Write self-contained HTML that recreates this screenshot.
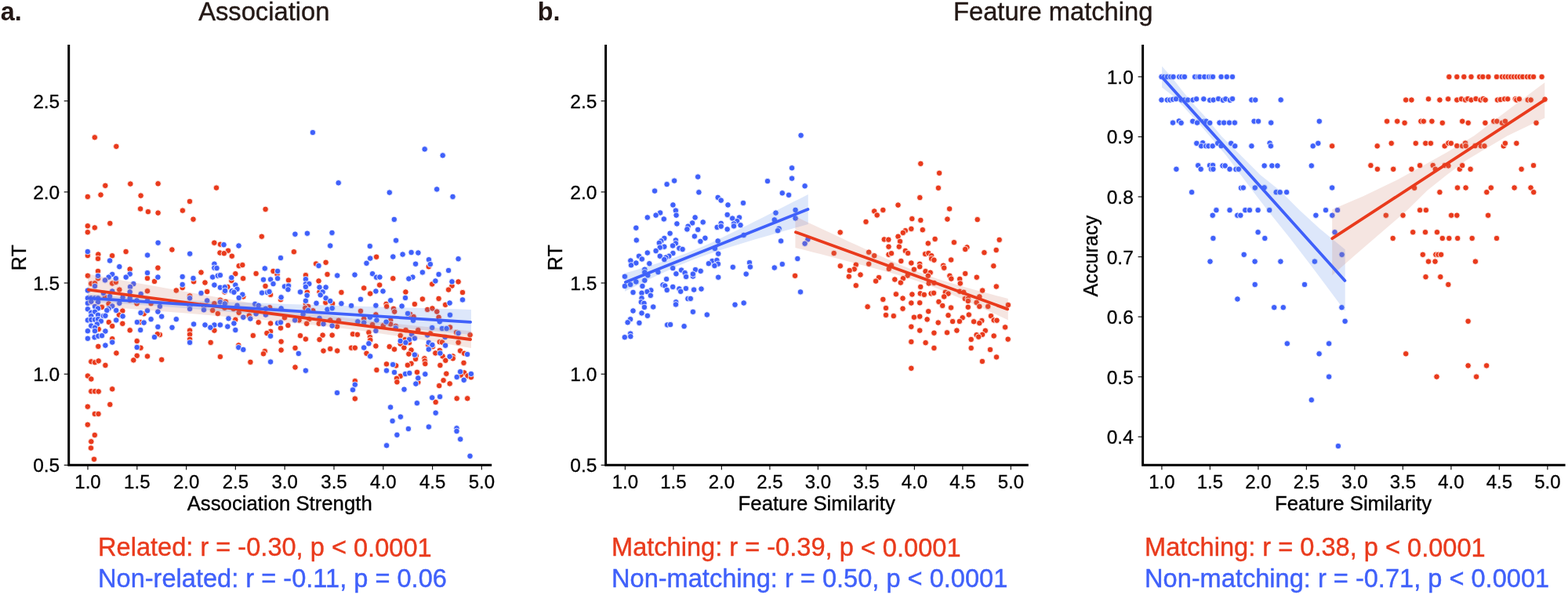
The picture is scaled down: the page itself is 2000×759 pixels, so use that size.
<!DOCTYPE html>
<html lang="en"><head><meta charset="utf-8"><title>Association and feature matching</title>
<style>
html,body{margin:0;padding:0;background:#fff;}
body{width:2000px;height:759px;overflow:hidden;}
svg{display:block;font-family:"Liberation Sans", sans-serif;}
.tk{font-size:24.5px;fill:#000;stroke:#000;stroke-width:0.3px;}
.tx{font-size:24px;}
.al{font-size:25px;fill:#000;stroke:#000;stroke-width:0.35px;}
.tt{font-size:32.7px;fill:#231815;stroke:#231815;stroke-width:0.4px;}
.pl{font-size:32.3px;font-weight:bold;fill:#231815;}
.an{font-size:32.6px;stroke-width:0.4px;}
.ax{stroke:#000;stroke-width:3.0;fill:none;stroke-linecap:square;}
.tc{stroke:#1a1a1a;stroke-width:1.25;fill:none;}
.dr{fill:#e93a1c;stroke:#fff;stroke-width:0.8;}
.db{fill:#3f60fa;stroke:#fff;stroke-width:0.8;}
.lr{stroke:#e93a1c;stroke-width:3.8;fill:none;stroke-linecap:round;}
.lb{stroke:#3f60fa;stroke-width:3.8;fill:none;stroke-linecap:round;}
.cr{fill:#cd7d69;fill-opacity:0.2;stroke:none;}
.cb{fill:#5587e6;fill-opacity:0.2;stroke:none;}
</style></head><body>
<svg width="2000" height="759" viewBox="0 0 2000 759" role="img" aria-label="Scatter plots of association strength and feature similarity against reaction time and accuracy">
<rect width="2000" height="759" fill="#fff"/>
<text class="pl" x="0.7" y="25.85" transform="rotate(0.02 0.7 25.85)">a.</text>
<text class="tt" x="253.2" y="26.4" transform="rotate(0.02 253.2 26.4)">Association</text>
<g id="pa-pts" transform="translate(0,0.2)">
<circle class="dr" cx="120.8" cy="175.1" r="3.75"/>
<circle class="dr" cx="148.3" cy="186.6" r="3.75"/>
<circle class="dr" cx="134.3" cy="236.6" r="3.75"/>
<circle class="dr" cx="166.3" cy="234.4" r="3.75"/>
<circle class="dr" cx="201.6" cy="234.1" r="3.75"/>
<circle class="dr" cx="276.0" cy="239.4" r="3.75"/>
<circle class="dr" cx="111.8" cy="250.7" r="3.75"/>
<circle class="dr" cx="128.5" cy="248.4" r="3.75"/>
<circle class="dr" cx="179.6" cy="249.4" r="3.75"/>
<circle class="dr" cx="242.0" cy="256.7" r="3.75"/>
<circle class="dr" cx="179.1" cy="266.2" r="3.75"/>
<circle class="dr" cx="188.9" cy="269.9" r="3.75"/>
<circle class="dr" cx="201.6" cy="271.4" r="3.75"/>
<circle class="dr" cx="232.9" cy="268.4" r="3.75"/>
<circle class="dr" cx="338.6" cy="266.7" r="3.75"/>
<circle class="dr" cx="246.5" cy="279.5" r="3.75"/>
<circle class="dr" cx="140.3" cy="284.7" r="3.75"/>
<circle class="dr" cx="111.8" cy="288.0" r="3.75"/>
<circle class="dr" cx="120.8" cy="290.2" r="3.75"/>
<circle class="dr" cx="111.8" cy="296.0" r="3.75"/>
<circle class="dr" cx="333.8" cy="301.5" r="3.75"/>
<circle class="dr" cx="273.3" cy="309.5" r="3.75"/>
<circle class="dr" cx="281.0" cy="311.5" r="3.75"/>
<circle class="dr" cx="219.4" cy="318.3" r="3.75"/>
<circle class="dr" cx="160.6" cy="320.8" r="3.75"/>
<circle class="dr" cx="291.0" cy="319.5" r="3.75"/>
<circle class="dr" cx="280.5" cy="322.3" r="3.75"/>
<circle class="dr" cx="285.8" cy="323.0" r="3.75"/>
<circle class="dr" cx="374.9" cy="321.0" r="3.75"/>
<circle class="dr" cx="125.3" cy="324.3" r="3.75"/>
<circle class="dr" cx="111.8" cy="325.8" r="3.75"/>
<circle class="dr" cx="143.1" cy="326.0" r="3.75"/>
<circle class="dr" cx="295.8" cy="326.5" r="3.75"/>
<circle class="dr" cx="125.0" cy="329.8" r="3.75"/>
<circle class="dr" cx="111.9" cy="351.5" r="3.75"/>
<circle class="dr" cx="125.0" cy="345.7" r="3.75"/>
<circle class="dr" cx="125.0" cy="355.0" r="3.75"/>
<circle class="dr" cx="165.7" cy="343.2" r="3.75"/>
<circle class="dr" cx="201.4" cy="341.5" r="3.75"/>
<circle class="dr" cx="256.5" cy="347.3" r="3.75"/>
<circle class="dr" cx="304.7" cy="339.0" r="3.75"/>
<circle class="dr" cx="309.3" cy="337.9" r="3.75"/>
<circle class="dr" cx="300.3" cy="349.0" r="3.75"/>
<circle class="dr" cx="326.6" cy="348.8" r="3.75"/>
<circle class="dr" cx="348.5" cy="345.7" r="3.75"/>
<circle class="dr" cx="353.5" cy="350.0" r="3.75"/>
<circle class="dr" cx="310.1" cy="355.0" r="3.75"/>
<circle class="dr" cx="188.0" cy="354.8" r="3.75"/>
<circle class="dr" cx="197.0" cy="358.8" r="3.75"/>
<circle class="dr" cx="247.1" cy="359.1" r="3.75"/>
<circle class="dr" cx="261.5" cy="360.3" r="3.75"/>
<circle class="dr" cx="295.3" cy="357.8" r="3.75"/>
<circle class="dr" cx="116.3" cy="361.6" r="3.75"/>
<circle class="dr" cx="121.0" cy="361.1" r="3.75"/>
<circle class="dr" cx="143.2" cy="361.3" r="3.75"/>
<circle class="dr" cx="147.8" cy="359.7" r="3.75"/>
<circle class="dr" cx="232.7" cy="366.9" r="3.75"/>
<circle class="dr" cx="290.3" cy="365.7" r="3.75"/>
<circle class="dr" cx="338.5" cy="364.8" r="3.75"/>
<circle class="dr" cx="152.3" cy="369.4" r="3.75"/>
<circle class="dr" cx="188.0" cy="371.1" r="3.75"/>
<circle class="dr" cx="224.8" cy="370.3" r="3.75"/>
<circle class="dr" cx="264.2" cy="371.9" r="3.75"/>
<circle class="dr" cx="286.5" cy="372.3" r="3.75"/>
<circle class="dr" cx="242.1" cy="377.3" r="3.75"/>
<circle class="dr" cx="310.3" cy="378.2" r="3.75"/>
<circle class="dr" cx="345.1" cy="375.7" r="3.75"/>
<circle class="dr" cx="134.0" cy="378.8" r="3.75"/>
<circle class="dr" cx="165.7" cy="382.8" r="3.75"/>
<circle class="dr" cx="174.5" cy="387.0" r="3.75"/>
<circle class="dr" cx="192.6" cy="387.0" r="3.75"/>
<circle class="dr" cx="138.6" cy="387.2" r="3.75"/>
<circle class="dr" cx="130.0" cy="391.6" r="3.75"/>
<circle class="dr" cx="273.4" cy="387.0" r="3.75"/>
<circle class="dr" cx="280.9" cy="382.6" r="3.75"/>
<circle class="dr" cx="287.8" cy="384.7" r="3.75"/>
<circle class="dr" cx="260.0" cy="390.1" r="3.75"/>
<circle class="dr" cx="271.2" cy="395.7" r="3.75"/>
<circle class="dr" cx="277.8" cy="399.9" r="3.75"/>
<circle class="dr" cx="286.5" cy="392.6" r="3.75"/>
<circle class="dr" cx="297.8" cy="393.9" r="3.75"/>
<circle class="dr" cx="304.7" cy="398.6" r="3.75"/>
<circle class="dr" cx="156.3" cy="396.4" r="3.75"/>
<circle class="dr" cx="151.9" cy="401.4" r="3.75"/>
<circle class="dr" cx="183.6" cy="400.1" r="3.75"/>
<circle class="dr" cx="317.8" cy="402.4" r="3.75"/>
<circle class="dr" cx="344.1" cy="392.0" r="3.75"/>
<circle class="dr" cx="300.3" cy="407.6" r="3.75"/>
<circle class="dr" cx="138.8" cy="410.8" r="3.75"/>
<circle class="dr" cx="156.3" cy="412.6" r="3.75"/>
<circle class="dr" cx="143.2" cy="415.8" r="3.75"/>
<circle class="dr" cx="178.9" cy="410.8" r="3.75"/>
<circle class="dr" cx="329.7" cy="411.0" r="3.75"/>
<circle class="dr" cx="345.1" cy="412.3" r="3.75"/>
<circle class="dr" cx="480.1" cy="327.5" r="3.75"/>
<circle class="dr" cx="403.1" cy="336.3" r="3.75"/>
<circle class="dr" cx="415.6" cy="334.6" r="3.75"/>
<circle class="dr" cx="546.8" cy="340.0" r="3.75"/>
<circle class="dr" cx="417.5" cy="349.8" r="3.75"/>
<circle class="dr" cx="389.9" cy="350.9" r="3.75"/>
<circle class="dr" cx="368.0" cy="357.3" r="3.75"/>
<circle class="dr" cx="406.5" cy="358.2" r="3.75"/>
<circle class="dr" cx="501.3" cy="355.0" r="3.75"/>
<circle class="dr" cx="584.6" cy="359.2" r="3.75"/>
<circle class="dr" cx="551.2" cy="362.2" r="3.75"/>
<circle class="dr" cx="484.2" cy="363.4" r="3.75"/>
<circle class="dr" cx="576.5" cy="364.4" r="3.75"/>
<circle class="dr" cx="464.2" cy="367.3" r="3.75"/>
<circle class="dr" cx="572.1" cy="369.4" r="3.75"/>
<circle class="dr" cx="391.8" cy="372.6" r="3.75"/>
<circle class="dr" cx="435.4" cy="372.8" r="3.75"/>
<circle class="dr" cx="472.2" cy="374.4" r="3.75"/>
<circle class="dr" cx="517.4" cy="372.3" r="3.75"/>
<circle class="dr" cx="590.0" cy="372.9" r="3.75"/>
<circle class="dr" cx="407.5" cy="372.3" r="3.75"/>
<circle class="dr" cx="358.0" cy="382.0" r="3.75"/>
<circle class="dr" cx="538.9" cy="381.3" r="3.75"/>
<circle class="dr" cx="559.6" cy="380.7" r="3.75"/>
<circle class="dr" cx="415.3" cy="385.7" r="3.75"/>
<circle class="dr" cx="424.1" cy="387.0" r="3.75"/>
<circle class="dr" cx="528.9" cy="387.8" r="3.75"/>
<circle class="dr" cx="568.1" cy="388.6" r="3.75"/>
<circle class="dr" cx="492.6" cy="387.6" r="3.75"/>
<circle class="dr" cx="493.2" cy="390.7" r="3.75"/>
<circle class="dr" cx="389.9" cy="387.2" r="3.75"/>
<circle class="dr" cx="393.1" cy="390.7" r="3.75"/>
<circle class="dr" cx="389.3" cy="392.6" r="3.75"/>
<circle class="dr" cx="399.3" cy="396.1" r="3.75"/>
<circle class="dr" cx="502.0" cy="393.6" r="3.75"/>
<circle class="dr" cx="503.2" cy="397.4" r="3.75"/>
<circle class="dr" cx="460.0" cy="396.6" r="3.75"/>
<circle class="dr" cx="545.2" cy="394.7" r="3.75"/>
<circle class="dr" cx="551.4" cy="393.2" r="3.75"/>
<circle class="dr" cx="557.3" cy="397.4" r="3.75"/>
<circle class="dr" cx="479.4" cy="401.1" r="3.75"/>
<circle class="dr" cx="523.3" cy="400.7" r="3.75"/>
<circle class="dr" cx="527.6" cy="403.9" r="3.75"/>
<circle class="dr" cx="559.6" cy="404.5" r="3.75"/>
<circle class="dr" cx="363.0" cy="405.1" r="3.75"/>
<circle class="dr" cx="464.2" cy="406.4" r="3.75"/>
<circle class="dr" cx="498.2" cy="408.2" r="3.75"/>
<circle class="dr" cx="498.2" cy="413.3" r="3.75"/>
<circle class="dr" cx="381.5" cy="408.2" r="3.75"/>
<circle class="dr" cx="394.3" cy="407.0" r="3.75"/>
<circle class="dr" cx="421.2" cy="408.2" r="3.75"/>
<circle class="dr" cx="431.9" cy="408.6" r="3.75"/>
<circle class="dr" cx="391.2" cy="412.6" r="3.75"/>
<circle class="dr" cx="406.8" cy="412.6" r="3.75"/>
<circle class="dr" cx="367.4" cy="414.9" r="3.75"/>
<circle class="dr" cx="430.0" cy="416.4" r="3.75"/>
<circle class="dr" cx="475.1" cy="413.9" r="3.75"/>
<circle class="dr" cx="488.8" cy="415.1" r="3.75"/>
<circle class="dr" cx="504.7" cy="415.8" r="3.75"/>
<circle class="dr" cx="358.0" cy="418.3" r="3.75"/>
<circle class="dr" cx="574.0" cy="417.3" r="3.75"/>
<circle class="dr" cx="125.7" cy="419.8" r="3.75"/>
<circle class="dr" cx="165.7" cy="421.1" r="3.75"/>
<circle class="dr" cx="242.1" cy="421.4" r="3.75"/>
<circle class="dr" cx="273.4" cy="421.4" r="3.75"/>
<circle class="dr" cx="345.1" cy="422.6" r="3.75"/>
<circle class="dr" cx="340.4" cy="424.8" r="3.75"/>
<circle class="dr" cx="242.1" cy="426.4" r="3.75"/>
<circle class="dr" cx="203.9" cy="426.8" r="3.75"/>
<circle class="dr" cx="200.8" cy="426.0" r="3.75"/>
<circle class="dr" cx="322.8" cy="427.9" r="3.75"/>
<circle class="dr" cx="143.2" cy="432.0" r="3.75"/>
<circle class="dr" cx="242.1" cy="432.6" r="3.75"/>
<circle class="dr" cx="174.7" cy="434.9" r="3.75"/>
<circle class="dr" cx="268.7" cy="436.7" r="3.75"/>
<circle class="dr" cx="125.3" cy="441.7" r="3.75"/>
<circle class="dr" cx="179.5" cy="443.5" r="3.75"/>
<circle class="dr" cx="304.3" cy="440.2" r="3.75"/>
<circle class="dr" cx="148.4" cy="450.2" r="3.75"/>
<circle class="dr" cx="337.8" cy="447.9" r="3.75"/>
<circle class="dr" cx="336.0" cy="451.1" r="3.75"/>
<circle class="dr" cx="174.7" cy="453.6" r="3.75"/>
<circle class="dr" cx="188.0" cy="454.3" r="3.75"/>
<circle class="dr" cx="280.9" cy="454.9" r="3.75"/>
<circle class="dr" cx="170.3" cy="459.2" r="3.75"/>
<circle class="dr" cx="206.2" cy="458.6" r="3.75"/>
<circle class="dr" cx="319.4" cy="461.7" r="3.75"/>
<circle class="dr" cx="116.3" cy="461.1" r="3.75"/>
<circle class="dr" cx="121.0" cy="462.1" r="3.75"/>
<circle class="dr" cx="125.7" cy="460.2" r="3.75"/>
<circle class="dr" cx="134.4" cy="465.8" r="3.75"/>
<circle class="dr" cx="111.9" cy="479.3" r="3.75"/>
<circle class="dr" cx="116.3" cy="483.3" r="3.75"/>
<circle class="dr" cx="143.2" cy="496.1" r="3.75"/>
<circle class="dr" cx="116.3" cy="499.0" r="3.75"/>
<circle class="dr" cx="121.0" cy="499.0" r="3.75"/>
<circle class="dr" cx="125.7" cy="499.2" r="3.75"/>
<circle class="dr" cx="517.6" cy="420.8" r="3.75"/>
<circle class="dr" cx="533.3" cy="420.8" r="3.75"/>
<circle class="dr" cx="470.4" cy="423.9" r="3.75"/>
<circle class="dr" cx="450.0" cy="426.0" r="3.75"/>
<circle class="dr" cx="455.9" cy="426.6" r="3.75"/>
<circle class="dr" cx="510.7" cy="427.9" r="3.75"/>
<circle class="dr" cx="423.7" cy="427.4" r="3.75"/>
<circle class="dr" cx="411.6" cy="427.4" r="3.75"/>
<circle class="dr" cx="383.0" cy="428.0" r="3.75"/>
<circle class="dr" cx="471.9" cy="429.9" r="3.75"/>
<circle class="dr" cx="548.9" cy="425.1" r="3.75"/>
<circle class="dr" cx="582.1" cy="423.9" r="3.75"/>
<circle class="dr" cx="599.6" cy="427.0" r="3.75"/>
<circle class="dr" cx="389.9" cy="432.4" r="3.75"/>
<circle class="dr" cx="407.5" cy="433.0" r="3.75"/>
<circle class="dr" cx="472.3" cy="433.6" r="3.75"/>
<circle class="dr" cx="516.4" cy="433.0" r="3.75"/>
<circle class="dr" cx="358.6" cy="435.5" r="3.75"/>
<circle class="dr" cx="560.8" cy="436.0" r="3.75"/>
<circle class="dr" cx="563.9" cy="436.4" r="3.75"/>
<circle class="dr" cx="584.6" cy="436.7" r="3.75"/>
<circle class="dr" cx="510.7" cy="438.3" r="3.75"/>
<circle class="dr" cx="522.0" cy="437.0" r="3.75"/>
<circle class="dr" cx="479.4" cy="441.2" r="3.75"/>
<circle class="dr" cx="546.4" cy="440.2" r="3.75"/>
<circle class="dr" cx="552.0" cy="442.0" r="3.75"/>
<circle class="dr" cx="496.7" cy="442.0" r="3.75"/>
<circle class="dr" cx="376.5" cy="443.7" r="3.75"/>
<circle class="dr" cx="448.1" cy="443.5" r="3.75"/>
<circle class="dr" cx="452.8" cy="443.5" r="3.75"/>
<circle class="dr" cx="515.4" cy="443.3" r="3.75"/>
<circle class="dr" cx="421.2" cy="444.8" r="3.75"/>
<circle class="dr" cx="503.0" cy="445.4" r="3.75"/>
<circle class="dr" cx="358.6" cy="446.4" r="3.75"/>
<circle class="dr" cx="412.5" cy="447.4" r="3.75"/>
<circle class="dr" cx="430.2" cy="447.3" r="3.75"/>
<circle class="dr" cx="524.5" cy="446.4" r="3.75"/>
<circle class="dr" cx="560.8" cy="446.8" r="3.75"/>
<circle class="dr" cx="587.1" cy="447.3" r="3.75"/>
<circle class="dr" cx="467.5" cy="450.6" r="3.75"/>
<circle class="dr" cx="555.4" cy="450.2" r="3.75"/>
<circle class="dr" cx="592.1" cy="450.6" r="3.75"/>
<circle class="dr" cx="521.4" cy="451.4" r="3.75"/>
<circle class="dr" cx="530.8" cy="453.9" r="3.75"/>
<circle class="dr" cx="564.6" cy="454.2" r="3.75"/>
<circle class="dr" cx="577.7" cy="454.2" r="3.75"/>
<circle class="dr" cx="577.7" cy="457.1" r="3.75"/>
<circle class="dr" cx="530.1" cy="457.7" r="3.75"/>
<circle class="dr" cx="541.4" cy="457.1" r="3.75"/>
<circle class="dr" cx="541.8" cy="460.2" r="3.75"/>
<circle class="dr" cx="568.3" cy="459.6" r="3.75"/>
<circle class="dr" cx="591.5" cy="462.7" r="3.75"/>
<circle class="dr" cx="493.0" cy="464.2" r="3.75"/>
<circle class="dr" cx="524.5" cy="463.6" r="3.75"/>
<circle class="dr" cx="542.3" cy="463.9" r="3.75"/>
<circle class="dr" cx="505.1" cy="466.2" r="3.75"/>
<circle class="dr" cx="519.9" cy="465.6" r="3.75"/>
<circle class="dr" cx="561.4" cy="465.8" r="3.75"/>
<circle class="dr" cx="376.5" cy="468.3" r="3.75"/>
<circle class="dr" cx="480.4" cy="471.8" r="3.75"/>
<circle class="dr" cx="532.0" cy="474.6" r="3.75"/>
<circle class="dr" cx="569.3" cy="476.5" r="3.75"/>
<circle class="dr" cx="592.1" cy="475.2" r="3.75"/>
<circle class="dr" cx="587.7" cy="478.3" r="3.75"/>
<circle class="dr" cx="596.5" cy="479.2" r="3.75"/>
<circle class="dr" cx="600.9" cy="481.1" r="3.75"/>
<circle class="dr" cx="510.7" cy="479.6" r="3.75"/>
<circle class="dr" cx="506.0" cy="482.5" r="3.75"/>
<circle class="dr" cx="506.4" cy="487.1" r="3.75"/>
<circle class="dr" cx="452.8" cy="485.9" r="3.75"/>
<circle class="dr" cx="533.3" cy="487.5" r="3.75"/>
<circle class="dr" cx="565.6" cy="485.0" r="3.75"/>
<circle class="dr" cx="573.7" cy="489.2" r="3.75"/>
<circle class="dr" cx="560.2" cy="491.9" r="3.75"/>
<circle class="dr" cx="452.8" cy="508.4" r="3.75"/>
<circle class="dr" cx="582.7" cy="508.1" r="3.75"/>
<circle class="dr" cx="596.2" cy="508.1" r="3.75"/>
<circle class="dr" cx="111.8" cy="518.5" r="3.75"/>
<circle class="dr" cx="140.3" cy="515.8" r="3.75"/>
<circle class="dr" cx="120.8" cy="527.8" r="3.75"/>
<circle class="dr" cx="125.5" cy="527.8" r="3.75"/>
<circle class="dr" cx="111.8" cy="541.5" r="3.75"/>
<circle class="dr" cx="120.8" cy="554.8" r="3.75"/>
<circle class="dr" cx="116.3" cy="563.1" r="3.75"/>
<circle class="dr" cx="116.0" cy="571.3" r="3.75"/>
<circle class="dr" cx="120.0" cy="585.6" r="3.75"/>
<circle class="dr" cx="555.7" cy="512.8" r="3.75"/>
<circle class="db" cx="398.9" cy="168.8" r="3.75"/>
<circle class="db" cx="541.7" cy="190.1" r="3.75"/>
<circle class="db" cx="564.7" cy="198.1" r="3.75"/>
<circle class="db" cx="431.7" cy="233.1" r="3.75"/>
<circle class="db" cx="557.2" cy="241.2" r="3.75"/>
<circle class="db" cx="496.8" cy="245.4" r="3.75"/>
<circle class="db" cx="577.5" cy="250.7" r="3.75"/>
<circle class="db" cx="502.8" cy="279.7" r="3.75"/>
<circle class="db" cx="376.4" cy="298.5" r="3.75"/>
<circle class="db" cx="391.9" cy="297.5" r="3.75"/>
<circle class="db" cx="423.5" cy="296.7" r="3.75"/>
<circle class="db" cx="505.1" cy="306.5" r="3.75"/>
<circle class="db" cx="201.6" cy="309.5" r="3.75"/>
<circle class="db" cx="285.5" cy="312.0" r="3.75"/>
<circle class="db" cx="304.5" cy="313.3" r="3.75"/>
<circle class="db" cx="421.2" cy="313.3" r="3.75"/>
<circle class="db" cx="471.8" cy="313.8" r="3.75"/>
<circle class="db" cx="111.8" cy="320.8" r="3.75"/>
<circle class="db" cx="524.6" cy="321.8" r="3.75"/>
<circle class="db" cx="533.4" cy="322.3" r="3.75"/>
<circle class="db" cx="513.6" cy="324.3" r="3.75"/>
<circle class="db" cx="242.2" cy="323.5" r="3.75"/>
<circle class="db" cx="188.1" cy="325.3" r="3.75"/>
<circle class="db" cx="140.1" cy="332.3" r="3.75"/>
<circle class="db" cx="152.3" cy="340.0" r="3.75"/>
<circle class="db" cx="273.4" cy="336.5" r="3.75"/>
<circle class="db" cx="273.4" cy="341.5" r="3.75"/>
<circle class="db" cx="276.5" cy="341.9" r="3.75"/>
<circle class="db" cx="337.8" cy="342.2" r="3.75"/>
<circle class="db" cx="354.1" cy="345.7" r="3.75"/>
<circle class="db" cx="143.2" cy="349.7" r="3.75"/>
<circle class="db" cx="165.7" cy="349.4" r="3.75"/>
<circle class="db" cx="188.0" cy="347.9" r="3.75"/>
<circle class="db" cx="125.0" cy="351.7" r="3.75"/>
<circle class="db" cx="138.6" cy="353.4" r="3.75"/>
<circle class="db" cx="134.0" cy="357.2" r="3.75"/>
<circle class="db" cx="147.8" cy="355.0" r="3.75"/>
<circle class="db" cx="160.7" cy="353.4" r="3.75"/>
<circle class="db" cx="201.4" cy="353.4" r="3.75"/>
<circle class="db" cx="232.7" cy="352.8" r="3.75"/>
<circle class="db" cx="246.5" cy="354.8" r="3.75"/>
<circle class="db" cx="271.2" cy="353.3" r="3.75"/>
<circle class="db" cx="277.8" cy="351.5" r="3.75"/>
<circle class="db" cx="280.9" cy="350.9" r="3.75"/>
<circle class="db" cx="295.3" cy="354.0" r="3.75"/>
<circle class="db" cx="336.0" cy="356.5" r="3.75"/>
<circle class="db" cx="345.1" cy="356.3" r="3.75"/>
<circle class="db" cx="354.1" cy="355.0" r="3.75"/>
<circle class="db" cx="121.0" cy="364.8" r="3.75"/>
<circle class="db" cx="170.3" cy="361.9" r="3.75"/>
<circle class="db" cx="166.1" cy="365.7" r="3.75"/>
<circle class="db" cx="232.7" cy="362.8" r="3.75"/>
<circle class="db" cx="273.4" cy="363.4" r="3.75"/>
<circle class="db" cx="280.9" cy="366.6" r="3.75"/>
<circle class="db" cx="286.8" cy="366.1" r="3.75"/>
<circle class="db" cx="300.3" cy="363.4" r="3.75"/>
<circle class="db" cx="348.5" cy="361.9" r="3.75"/>
<circle class="db" cx="111.9" cy="370.3" r="3.75"/>
<circle class="db" cx="143.2" cy="371.3" r="3.75"/>
<circle class="db" cx="165.7" cy="372.2" r="3.75"/>
<circle class="db" cx="302.5" cy="368.6" r="3.75"/>
<circle class="db" cx="295.7" cy="371.1" r="3.75"/>
<circle class="db" cx="298.4" cy="372.6" r="3.75"/>
<circle class="db" cx="287.1" cy="370.7" r="3.75"/>
<circle class="db" cx="256.5" cy="373.8" r="3.75"/>
<circle class="db" cx="179.7" cy="374.8" r="3.75"/>
<circle class="db" cx="309.3" cy="375.5" r="3.75"/>
<circle class="db" cx="304.7" cy="379.7" r="3.75"/>
<circle class="db" cx="334.1" cy="373.4" r="3.75"/>
<circle class="db" cx="341.0" cy="372.9" r="3.75"/>
<circle class="db" cx="343.5" cy="371.9" r="3.75"/>
<circle class="db" cx="131.9" cy="373.8" r="3.75"/>
<circle class="db" cx="140.1" cy="377.8" r="3.75"/>
<circle class="db" cx="156.6" cy="379.1" r="3.75"/>
<circle class="db" cx="165.7" cy="380.1" r="3.75"/>
<circle class="db" cx="174.5" cy="383.2" r="3.75"/>
<circle class="db" cx="188.0" cy="383.2" r="3.75"/>
<circle class="db" cx="242.1" cy="380.1" r="3.75"/>
<circle class="db" cx="264.2" cy="383.2" r="3.75"/>
<circle class="db" cx="280.9" cy="385.1" r="3.75"/>
<circle class="db" cx="286.8" cy="387.2" r="3.75"/>
<circle class="db" cx="302.5" cy="389.5" r="3.75"/>
<circle class="db" cx="325.3" cy="387.6" r="3.75"/>
<circle class="db" cx="329.7" cy="389.5" r="3.75"/>
<circle class="db" cx="338.9" cy="393.6" r="3.75"/>
<circle class="db" cx="111.9" cy="380.1" r="3.75"/>
<circle class="db" cx="116.3" cy="380.1" r="3.75"/>
<circle class="db" cx="121.0" cy="380.1" r="3.75"/>
<circle class="db" cx="125.0" cy="380.1" r="3.75"/>
<circle class="db" cx="111.9" cy="386.6" r="3.75"/>
<circle class="db" cx="116.3" cy="384.5" r="3.75"/>
<circle class="db" cx="125.0" cy="385.1" r="3.75"/>
<circle class="db" cx="152.3" cy="386.6" r="3.75"/>
<circle class="db" cx="143.2" cy="390.3" r="3.75"/>
<circle class="db" cx="203.9" cy="390.7" r="3.75"/>
<circle class="db" cx="242.1" cy="390.1" r="3.75"/>
<circle class="db" cx="242.1" cy="393.9" r="3.75"/>
<circle class="db" cx="260.0" cy="395.1" r="3.75"/>
<circle class="db" cx="121.0" cy="390.7" r="3.75"/>
<circle class="db" cx="125.0" cy="393.2" r="3.75"/>
<circle class="db" cx="111.9" cy="394.1" r="3.75"/>
<circle class="db" cx="138.6" cy="393.6" r="3.75"/>
<circle class="db" cx="136.3" cy="395.7" r="3.75"/>
<circle class="db" cx="148.2" cy="395.7" r="3.75"/>
<circle class="db" cx="188.0" cy="396.1" r="3.75"/>
<circle class="db" cx="201.4" cy="397.4" r="3.75"/>
<circle class="db" cx="179.5" cy="398.9" r="3.75"/>
<circle class="db" cx="116.3" cy="398.6" r="3.75"/>
<circle class="db" cx="121.0" cy="397.6" r="3.75"/>
<circle class="db" cx="125.0" cy="401.6" r="3.75"/>
<circle class="db" cx="116.3" cy="402.9" r="3.75"/>
<circle class="db" cx="131.9" cy="402.9" r="3.75"/>
<circle class="db" cx="134.4" cy="402.6" r="3.75"/>
<circle class="db" cx="156.6" cy="403.2" r="3.75"/>
<circle class="db" cx="206.2" cy="403.5" r="3.75"/>
<circle class="db" cx="326.6" cy="400.1" r="3.75"/>
<circle class="db" cx="338.9" cy="401.4" r="3.75"/>
<circle class="db" cx="291.5" cy="406.1" r="3.75"/>
<circle class="db" cx="310.3" cy="404.5" r="3.75"/>
<circle class="db" cx="319.3" cy="406.4" r="3.75"/>
<circle class="db" cx="111.9" cy="408.2" r="3.75"/>
<circle class="db" cx="116.3" cy="407.6" r="3.75"/>
<circle class="db" cx="121.0" cy="407.6" r="3.75"/>
<circle class="db" cx="125.0" cy="407.0" r="3.75"/>
<circle class="db" cx="128.8" cy="409.5" r="3.75"/>
<circle class="db" cx="148.2" cy="408.2" r="3.75"/>
<circle class="db" cx="192.6" cy="407.0" r="3.75"/>
<circle class="db" cx="224.8" cy="407.0" r="3.75"/>
<circle class="db" cx="174.9" cy="410.8" r="3.75"/>
<circle class="db" cx="183.6" cy="411.4" r="3.75"/>
<circle class="db" cx="247.1" cy="413.3" r="3.75"/>
<circle class="db" cx="261.5" cy="414.3" r="3.75"/>
<circle class="db" cx="273.4" cy="414.3" r="3.75"/>
<circle class="db" cx="280.9" cy="414.3" r="3.75"/>
<circle class="db" cx="298.4" cy="412.3" r="3.75"/>
<circle class="db" cx="354.1" cy="412.0" r="3.75"/>
<circle class="db" cx="116.3" cy="415.4" r="3.75"/>
<circle class="db" cx="123.8" cy="413.3" r="3.75"/>
<circle class="db" cx="121.0" cy="417.6" r="3.75"/>
<circle class="db" cx="201.4" cy="416.8" r="3.75"/>
<circle class="db" cx="219.5" cy="417.6" r="3.75"/>
<circle class="db" cx="268.4" cy="417.6" r="3.75"/>
<circle class="db" cx="290.3" cy="416.4" r="3.75"/>
<circle class="db" cx="358.0" cy="328.8" r="3.75"/>
<circle class="db" cx="472.2" cy="329.4" r="3.75"/>
<circle class="db" cx="501.3" cy="327.3" r="3.75"/>
<circle class="db" cx="547.0" cy="331.0" r="3.75"/>
<circle class="db" cx="584.6" cy="330.0" r="3.75"/>
<circle class="db" cx="467.5" cy="335.6" r="3.75"/>
<circle class="db" cx="406.5" cy="338.8" r="3.75"/>
<circle class="db" cx="530.1" cy="336.5" r="3.75"/>
<circle class="db" cx="548.9" cy="336.9" r="3.75"/>
<circle class="db" cx="572.1" cy="344.8" r="3.75"/>
<circle class="db" cx="538.9" cy="347.2" r="3.75"/>
<circle class="db" cx="559.6" cy="349.8" r="3.75"/>
<circle class="db" cx="430.2" cy="351.3" r="3.75"/>
<circle class="db" cx="452.5" cy="350.4" r="3.75"/>
<circle class="db" cx="475.1" cy="349.0" r="3.75"/>
<circle class="db" cx="480.1" cy="353.5" r="3.75"/>
<circle class="db" cx="484.4" cy="353.3" r="3.75"/>
<circle class="db" cx="526.4" cy="353.4" r="3.75"/>
<circle class="db" cx="521.4" cy="355.4" r="3.75"/>
<circle class="db" cx="389.9" cy="356.0" r="3.75"/>
<circle class="db" cx="555.4" cy="358.2" r="3.75"/>
<circle class="db" cx="576.5" cy="359.1" r="3.75"/>
<circle class="db" cx="363.0" cy="365.3" r="3.75"/>
<circle class="db" cx="368.0" cy="364.4" r="3.75"/>
<circle class="db" cx="367.4" cy="369.1" r="3.75"/>
<circle class="db" cx="389.9" cy="362.2" r="3.75"/>
<circle class="db" cx="394.3" cy="361.9" r="3.75"/>
<circle class="db" cx="389.9" cy="365.7" r="3.75"/>
<circle class="db" cx="407.5" cy="366.3" r="3.75"/>
<circle class="db" cx="415.6" cy="366.3" r="3.75"/>
<circle class="db" cx="383.0" cy="372.3" r="3.75"/>
<circle class="db" cx="411.6" cy="372.3" r="3.75"/>
<circle class="db" cx="408.7" cy="376.1" r="3.75"/>
<circle class="db" cx="391.6" cy="376.6" r="3.75"/>
<circle class="db" cx="479.4" cy="371.3" r="3.75"/>
<circle class="db" cx="488.5" cy="371.3" r="3.75"/>
<circle class="db" cx="358.6" cy="379.1" r="3.75"/>
<circle class="db" cx="415.6" cy="380.1" r="3.75"/>
<circle class="db" cx="421.2" cy="383.8" r="3.75"/>
<circle class="db" cx="460.0" cy="381.6" r="3.75"/>
<circle class="db" cx="498.2" cy="383.0" r="3.75"/>
<circle class="db" cx="517.0" cy="379.8" r="3.75"/>
<circle class="db" cx="590.0" cy="382.2" r="3.75"/>
<circle class="db" cx="389.9" cy="383.6" r="3.75"/>
<circle class="db" cx="403.5" cy="386.6" r="3.75"/>
<circle class="db" cx="435.4" cy="387.0" r="3.75"/>
<circle class="db" cx="448.1" cy="389.7" r="3.75"/>
<circle class="db" cx="479.4" cy="389.5" r="3.75"/>
<circle class="db" cx="512.6" cy="390.3" r="3.75"/>
<circle class="db" cx="573.6" cy="386.3" r="3.75"/>
<circle class="db" cx="358.6" cy="393.2" r="3.75"/>
<circle class="db" cx="417.5" cy="394.5" r="3.75"/>
<circle class="db" cx="423.7" cy="393.0" r="3.75"/>
<circle class="db" cx="393.1" cy="395.7" r="3.75"/>
<circle class="db" cx="386.6" cy="400.7" r="3.75"/>
<circle class="db" cx="520.1" cy="399.7" r="3.75"/>
<circle class="db" cx="574.0" cy="401.6" r="3.75"/>
<circle class="db" cx="407.5" cy="405.7" r="3.75"/>
<circle class="db" cx="471.9" cy="404.5" r="3.75"/>
<circle class="db" cx="480.4" cy="408.2" r="3.75"/>
<circle class="db" cx="456.3" cy="410.1" r="3.75"/>
<circle class="db" cx="464.2" cy="411.4" r="3.75"/>
<circle class="db" cx="492.6" cy="410.5" r="3.75"/>
<circle class="db" cx="527.0" cy="408.6" r="3.75"/>
<circle class="db" cx="560.8" cy="410.1" r="3.75"/>
<circle class="db" cx="358.0" cy="411.1" r="3.75"/>
<circle class="db" cx="376.2" cy="408.2" r="3.75"/>
<circle class="db" cx="412.5" cy="413.0" r="3.75"/>
<circle class="db" cx="423.7" cy="415.4" r="3.75"/>
<circle class="db" cx="551.2" cy="417.9" r="3.75"/>
<circle class="db" cx="504.7" cy="418.3" r="3.75"/>
<circle class="db" cx="563.9" cy="418.9" r="3.75"/>
<circle class="db" cx="569.6" cy="418.9" r="3.75"/>
<circle class="db" cx="111.9" cy="422.0" r="3.75"/>
<circle class="db" cx="121.0" cy="422.0" r="3.75"/>
<circle class="db" cx="134.4" cy="422.3" r="3.75"/>
<circle class="db" cx="179.2" cy="420.8" r="3.75"/>
<circle class="db" cx="300.3" cy="420.8" r="3.75"/>
<circle class="db" cx="111.9" cy="431.6" r="3.75"/>
<circle class="db" cx="120.6" cy="430.1" r="3.75"/>
<circle class="db" cx="125.3" cy="428.5" r="3.75"/>
<circle class="db" cx="130.0" cy="428.0" r="3.75"/>
<circle class="db" cx="197.0" cy="429.9" r="3.75"/>
<circle class="db" cx="345.1" cy="428.5" r="3.75"/>
<circle class="db" cx="143.2" cy="436.4" r="3.75"/>
<circle class="db" cx="134.4" cy="440.4" r="3.75"/>
<circle class="db" cx="242.1" cy="436.7" r="3.75"/>
<circle class="db" cx="174.7" cy="442.9" r="3.75"/>
<circle class="db" cx="304.3" cy="443.0" r="3.75"/>
<circle class="db" cx="310.3" cy="445.8" r="3.75"/>
<circle class="db" cx="345.1" cy="461.4" r="3.75"/>
<circle class="db" cx="479.4" cy="421.8" r="3.75"/>
<circle class="db" cx="584.6" cy="424.9" r="3.75"/>
<circle class="db" cx="525.1" cy="426.4" r="3.75"/>
<circle class="db" cx="545.2" cy="427.3" r="3.75"/>
<circle class="db" cx="567.7" cy="429.9" r="3.75"/>
<circle class="db" cx="528.9" cy="431.4" r="3.75"/>
<circle class="db" cx="522.0" cy="432.9" r="3.75"/>
<circle class="db" cx="510.7" cy="434.8" r="3.75"/>
<circle class="db" cx="517.4" cy="436.8" r="3.75"/>
<circle class="db" cx="546.8" cy="436.7" r="3.75"/>
<circle class="db" cx="470.4" cy="438.0" r="3.75"/>
<circle class="db" cx="551.4" cy="439.8" r="3.75"/>
<circle class="db" cx="568.1" cy="440.5" r="3.75"/>
<circle class="db" cx="464.2" cy="443.3" r="3.75"/>
<circle class="db" cx="546.8" cy="445.4" r="3.75"/>
<circle class="db" cx="380.8" cy="450.8" r="3.75"/>
<circle class="db" cx="561.4" cy="450.4" r="3.75"/>
<circle class="db" cx="596.1" cy="451.8" r="3.75"/>
<circle class="db" cx="528.9" cy="452.4" r="3.75"/>
<circle class="db" cx="472.2" cy="454.2" r="3.75"/>
<circle class="db" cx="573.6" cy="454.6" r="3.75"/>
<circle class="db" cx="501.1" cy="464.9" r="3.75"/>
<circle class="db" cx="389.9" cy="472.5" r="3.75"/>
<circle class="db" cx="493.0" cy="472.5" r="3.75"/>
<circle class="db" cx="503.0" cy="474.8" r="3.75"/>
<circle class="db" cx="587.1" cy="474.0" r="3.75"/>
<circle class="db" cx="600.9" cy="476.7" r="3.75"/>
<circle class="db" cx="517.0" cy="476.8" r="3.75"/>
<circle class="db" cx="522.3" cy="475.8" r="3.75"/>
<circle class="db" cx="542.3" cy="477.1" r="3.75"/>
<circle class="db" cx="582.7" cy="480.8" r="3.75"/>
<circle class="db" cx="533.3" cy="482.1" r="3.75"/>
<circle class="db" cx="591.7" cy="484.6" r="3.75"/>
<circle class="db" cx="530.4" cy="489.4" r="3.75"/>
<circle class="db" cx="452.8" cy="490.5" r="3.75"/>
<circle class="db" cx="450.0" cy="497.1" r="3.75"/>
<circle class="db" cx="515.5" cy="496.5" r="3.75"/>
<circle class="db" cx="430.0" cy="500.9" r="3.75"/>
<circle class="db" cx="551.2" cy="507.1" r="3.75"/>
<circle class="db" cx="561.1" cy="505.9" r="3.75"/>
<circle class="db" cx="531.9" cy="514.0" r="3.75"/>
<circle class="db" cx="498.1" cy="519.3" r="3.75"/>
<circle class="db" cx="555.7" cy="526.5" r="3.75"/>
<circle class="db" cx="510.9" cy="531.5" r="3.75"/>
<circle class="db" cx="500.6" cy="536.8" r="3.75"/>
<circle class="db" cx="546.9" cy="544.3" r="3.75"/>
<circle class="db" cx="520.9" cy="546.8" r="3.75"/>
<circle class="db" cx="582.5" cy="546.1" r="3.75"/>
<circle class="db" cx="582.5" cy="549.8" r="3.75"/>
<circle class="db" cx="506.4" cy="554.6" r="3.75"/>
<circle class="db" cx="587.2" cy="560.1" r="3.75"/>
<circle class="db" cx="493.1" cy="568.1" r="3.75"/>
<circle class="db" cx="599.5" cy="581.6" r="3.75"/>
<polygon class="cr" points="112.0,349.4 132.4,353.1 152.8,356.8 173.1,360.5 193.5,364.1 213.9,367.8 234.2,371.4 254.6,375.0 275.0,378.6 295.4,382.1 315.8,385.6 336.1,389.1 356.5,392.4 376.9,395.7 397.2,398.9 417.6,401.9 438.0,404.7 458.4,407.4 478.8,409.8 499.1,412.2 519.5,414.3 539.9,416.4 560.2,418.3 580.6,420.2 601.0,422.0 601.0,443.8 580.6,440.3 560.2,436.9 539.9,433.6 519.5,430.3 499.1,427.2 478.8,424.2 458.4,421.4 438.0,418.8 417.6,416.3 397.2,414.0 376.9,411.9 356.5,409.9 336.1,407.9 315.8,406.1 295.4,404.3 275.0,402.5 254.6,400.8 234.2,399.1 213.9,397.5 193.5,395.8 173.1,394.2 152.8,392.6 132.4,391.0 112.0,389.4"/>
<polygon class="cb" points="112.0,375.5 132.4,377.0 152.8,378.3 173.1,379.6 193.5,380.7 213.9,381.8 234.2,382.7 254.6,383.6 275.0,384.4 295.4,385.2 315.8,385.9 336.1,386.6 356.5,387.3 376.9,388.0 397.2,388.6 417.6,389.2 438.0,389.9 458.4,390.5 478.8,391.1 499.1,391.7 519.5,392.3 539.9,392.9 560.2,393.5 580.6,394.1 601.0,394.7 601.0,426.7 580.6,424.8 560.2,422.8 539.9,420.8 519.5,418.9 499.1,416.9 478.8,415.0 458.4,413.1 438.0,411.1 417.6,409.2 397.2,407.3 376.9,405.4 356.5,403.5 336.1,401.6 315.8,399.8 295.4,398.0 275.0,396.2 254.6,394.5 234.2,392.8 213.9,391.2 193.5,389.7 173.1,388.2 152.8,387.0 132.4,385.8 112.0,384.7"/>
<line class="lr" x1="112.9" y1="369.5" x2="600.1" y2="432.8"/>
<line class="lb" x1="112.9" y1="380.2" x2="600.1" y2="410.6"/>
</g>
<g id="pa">
<line class="tc" x1="112.0" y1="593.3" x2="112.0" y2="599.3"/>
<text class="tk tx" x="112.0" y="622.6" transform="rotate(0.02 112.0 622.6)" text-anchor="middle">1.0</text>
<line class="tc" x1="174.8" y1="593.3" x2="174.8" y2="599.3"/>
<text class="tk tx" x="174.8" y="622.6" transform="rotate(0.02 174.8 622.6)" text-anchor="middle">1.5</text>
<line class="tc" x1="237.6" y1="593.3" x2="237.6" y2="599.3"/>
<text class="tk tx" x="237.6" y="622.6" transform="rotate(0.02 237.6 622.6)" text-anchor="middle">2.0</text>
<line class="tc" x1="300.4" y1="593.3" x2="300.4" y2="599.3"/>
<text class="tk tx" x="300.4" y="622.6" transform="rotate(0.02 300.4 622.6)" text-anchor="middle">2.5</text>
<line class="tc" x1="363.2" y1="593.3" x2="363.2" y2="599.3"/>
<text class="tk tx" x="363.2" y="622.6" transform="rotate(0.02 363.2 622.6)" text-anchor="middle">3.0</text>
<line class="tc" x1="426.0" y1="593.3" x2="426.0" y2="599.3"/>
<text class="tk tx" x="426.0" y="622.6" transform="rotate(0.02 426.0 622.6)" text-anchor="middle">3.5</text>
<line class="tc" x1="488.8" y1="593.3" x2="488.8" y2="599.3"/>
<text class="tk tx" x="488.8" y="622.6" transform="rotate(0.02 488.8 622.6)" text-anchor="middle">4.0</text>
<line class="tc" x1="551.6" y1="593.3" x2="551.6" y2="599.3"/>
<text class="tk tx" x="551.6" y="622.6" transform="rotate(0.02 551.6 622.6)" text-anchor="middle">4.5</text>
<line class="tc" x1="614.4" y1="593.3" x2="614.4" y2="599.3"/>
<text class="tk tx" x="614.4" y="622.6" transform="rotate(0.02 614.4 622.6)" text-anchor="middle">5.0</text>
<line class="tc" x1="81.7" y1="128.8" x2="87.7" y2="128.8"/>
<text class="tk" x="76.2" y="137.8" transform="rotate(0.02 76.2 137.8)" text-anchor="end">2.5</text>
<line class="tc" x1="81.7" y1="244.9" x2="87.7" y2="244.9"/>
<text class="tk" x="76.2" y="253.9" transform="rotate(0.02 76.2 253.9)" text-anchor="end">2.0</text>
<line class="tc" x1="81.7" y1="361.0" x2="87.7" y2="361.0"/>
<text class="tk" x="76.2" y="370.0" transform="rotate(0.02 76.2 370.0)" text-anchor="end">1.5</text>
<line class="tc" x1="81.7" y1="477.2" x2="87.7" y2="477.2"/>
<text class="tk" x="76.2" y="486.2" transform="rotate(0.02 76.2 486.2)" text-anchor="end">1.0</text>
<line class="tc" x1="81.7" y1="593.3" x2="87.7" y2="593.3"/>
<text class="tk" x="76.2" y="602.3" transform="rotate(0.02 76.2 602.3)" text-anchor="end">0.5</text>
<text class="al" transform="translate(356.7,651.4) rotate(0.02) scale(1.03,1)" text-anchor="middle">Association Strength</text>
<text class="al" transform="translate(32.6,328.7) rotate(-89.98) scale(1.01,1)" text-anchor="middle">RT</text>
</g>
<path class="ax" d="M87.7 58.6V593.3H625.7"/>
<text class="an" x="125" y="709.4" transform="rotate(0.02 125 709.4)" fill="#e93a1c" stroke="#e93a1c">Related: r = -0.30, p &lt; 0.0001</text>
<text class="an" x="125" y="748.65" transform="rotate(0.02 125 748.65)" fill="#3f60fa" stroke="#3f60fa">Non-related: r = -0.11, p = 0.06</text>
<text class="pl" x="685.8" y="25.85" transform="rotate(0.02 685.8 25.85)">b.</text>
<text class="tt" x="1216" y="26.3" transform="rotate(0.02 1216 26.3)">Feature matching</text>
<g id="pb-pts" transform="translate(0,0.2)">
<circle class="dr" cx="1174.3" cy="208.6" r="3.75"/>
<circle class="dr" cx="1198.1" cy="220.6" r="3.75"/>
<circle class="dr" cx="1196.9" cy="239.6" r="3.75"/>
<circle class="dr" cx="1173.3" cy="251.9" r="3.75"/>
<circle class="dr" cx="1145.5" cy="261.4" r="3.75"/>
<circle class="dr" cx="1126.3" cy="267.7" r="3.75"/>
<circle class="dr" cx="1115.2" cy="269.2" r="3.75"/>
<circle class="dr" cx="1118.7" cy="274.2" r="3.75"/>
<circle class="dr" cx="1211.1" cy="266.2" r="3.75"/>
<circle class="dr" cx="1104.5" cy="282.7" r="3.75"/>
<circle class="dr" cx="1163.3" cy="278.9" r="3.75"/>
<circle class="dr" cx="1174.3" cy="280.7" r="3.75"/>
<circle class="dr" cx="1208.4" cy="279.4" r="3.75"/>
<circle class="dr" cx="1246.7" cy="279.9" r="3.75"/>
<circle class="dr" cx="1162.3" cy="291.7" r="3.75"/>
<circle class="dr" cx="1154.8" cy="294.0" r="3.75"/>
<circle class="dr" cx="1151.8" cy="296.7" r="3.75"/>
<circle class="dr" cx="1176.8" cy="293.0" r="3.75"/>
<circle class="dr" cx="1071.7" cy="296.2" r="3.75"/>
<circle class="dr" cx="1145.5" cy="301.5" r="3.75"/>
<circle class="dr" cx="1127.8" cy="305.2" r="3.75"/>
<circle class="dr" cx="1133.3" cy="305.5" r="3.75"/>
<circle class="dr" cx="1148.0" cy="307.7" r="3.75"/>
<circle class="dr" cx="1192.6" cy="304.7" r="3.75"/>
<circle class="dr" cx="1183.8" cy="310.2" r="3.75"/>
<circle class="dr" cx="1216.9" cy="309.0" r="3.75"/>
<circle class="dr" cx="1274.7" cy="305.7" r="3.75"/>
<circle class="dr" cx="1133.5" cy="314.5" r="3.75"/>
<circle class="dr" cx="1146.8" cy="314.5" r="3.75"/>
<circle class="dr" cx="1233.4" cy="315.2" r="3.75"/>
<circle class="dr" cx="1231.2" cy="317.8" r="3.75"/>
<circle class="dr" cx="1154.8" cy="319.8" r="3.75"/>
<circle class="dr" cx="1158.1" cy="322.8" r="3.75"/>
<circle class="dr" cx="1270.7" cy="318.8" r="3.75"/>
<circle class="dr" cx="1255.4" cy="322.0" r="3.75"/>
<circle class="dr" cx="1108.2" cy="321.5" r="3.75"/>
<circle class="dr" cx="1115.2" cy="326.0" r="3.75"/>
<circle class="dr" cx="1063.7" cy="322.8" r="3.75"/>
<circle class="dr" cx="1133.5" cy="324.5" r="3.75"/>
<circle class="dr" cx="1137.0" cy="323.0" r="3.75"/>
<circle class="dr" cx="1180.1" cy="323.8" r="3.75"/>
<circle class="dr" cx="1184.3" cy="322.8" r="3.75"/>
<circle class="dr" cx="1188.1" cy="326.0" r="3.75"/>
<circle class="dr" cx="1188.1" cy="329.8" r="3.75"/>
<circle class="dr" cx="1191.4" cy="331.5" r="3.75"/>
<circle class="dr" cx="1213.1" cy="331.3" r="3.75"/>
<circle class="dr" cx="1149.3" cy="332.8" r="3.75"/>
<circle class="dr" cx="1162.3" cy="335.3" r="3.75"/>
<circle class="dr" cx="1173.1" cy="336.5" r="3.75"/>
<circle class="dr" cx="1108.2" cy="336.5" r="3.75"/>
<circle class="dr" cx="1014.1" cy="351.6" r="3.75"/>
<circle class="dr" cx="1071.8" cy="339.1" r="3.75"/>
<circle class="dr" cx="1091.8" cy="337.5" r="3.75"/>
<circle class="dr" cx="1136.9" cy="338.1" r="3.75"/>
<circle class="dr" cx="1173.2" cy="340.0" r="3.75"/>
<circle class="dr" cx="1203.2" cy="338.5" r="3.75"/>
<circle class="dr" cx="1204.2" cy="341.5" r="3.75"/>
<circle class="dr" cx="1267.3" cy="339.1" r="3.75"/>
<circle class="dr" cx="1133.8" cy="342.8" r="3.75"/>
<circle class="dr" cx="1089.7" cy="343.1" r="3.75"/>
<circle class="dr" cx="1083.7" cy="344.8" r="3.75"/>
<circle class="dr" cx="1165.9" cy="343.5" r="3.75"/>
<circle class="dr" cx="1180.5" cy="345.9" r="3.75"/>
<circle class="dr" cx="1186.7" cy="347.5" r="3.75"/>
<circle class="dr" cx="1097.5" cy="350.3" r="3.75"/>
<circle class="dr" cx="1082.8" cy="352.5" r="3.75"/>
<circle class="dr" cx="1121.0" cy="353.8" r="3.75"/>
<circle class="dr" cx="1183.8" cy="351.6" r="3.75"/>
<circle class="dr" cx="1211.4" cy="351.6" r="3.75"/>
<circle class="dr" cx="1231.2" cy="348.8" r="3.75"/>
<circle class="dr" cx="1245.8" cy="353.5" r="3.75"/>
<circle class="dr" cx="1157.6" cy="351.3" r="3.75"/>
<circle class="dr" cx="1151.9" cy="355.0" r="3.75"/>
<circle class="dr" cx="1141.3" cy="356.3" r="3.75"/>
<circle class="dr" cx="1213.3" cy="355.4" r="3.75"/>
<circle class="dr" cx="1224.2" cy="355.7" r="3.75"/>
<circle class="dr" cx="1117.1" cy="358.4" r="3.75"/>
<circle class="dr" cx="1148.8" cy="360.4" r="3.75"/>
<circle class="dr" cx="1184.7" cy="361.3" r="3.75"/>
<circle class="dr" cx="1191.4" cy="360.7" r="3.75"/>
<circle class="dr" cx="1224.8" cy="361.3" r="3.75"/>
<circle class="dr" cx="1091.8" cy="364.0" r="3.75"/>
<circle class="dr" cx="1174.2" cy="365.7" r="3.75"/>
<circle class="dr" cx="1270.8" cy="365.3" r="3.75"/>
<circle class="dr" cx="1253.1" cy="370.4" r="3.75"/>
<circle class="dr" cx="1224.2" cy="371.6" r="3.75"/>
<circle class="dr" cx="1229.2" cy="372.6" r="3.75"/>
<circle class="dr" cx="1205.8" cy="372.6" r="3.75"/>
<circle class="dr" cx="1209.5" cy="374.4" r="3.75"/>
<circle class="dr" cx="1142.9" cy="375.1" r="3.75"/>
<circle class="dr" cx="1163.4" cy="375.3" r="3.75"/>
<circle class="dr" cx="1173.8" cy="374.2" r="3.75"/>
<circle class="dr" cx="1178.8" cy="375.7" r="3.75"/>
<circle class="dr" cx="1187.6" cy="374.2" r="3.75"/>
<circle class="dr" cx="1191.0" cy="373.6" r="3.75"/>
<circle class="dr" cx="1204.2" cy="378.2" r="3.75"/>
<circle class="dr" cx="1249.3" cy="378.2" r="3.75"/>
<circle class="dr" cx="1126.3" cy="381.7" r="3.75"/>
<circle class="dr" cx="1151.5" cy="380.4" r="3.75"/>
<circle class="dr" cx="1230.8" cy="380.9" r="3.75"/>
<circle class="dr" cx="1234.8" cy="380.7" r="3.75"/>
<circle class="dr" cx="1234.8" cy="383.8" r="3.75"/>
<circle class="dr" cx="1162.3" cy="386.3" r="3.75"/>
<circle class="dr" cx="1173.2" cy="386.1" r="3.75"/>
<circle class="dr" cx="1197.4" cy="384.7" r="3.75"/>
<circle class="dr" cx="1245.6" cy="385.7" r="3.75"/>
<circle class="dr" cx="1202.2" cy="389.7" r="3.75"/>
<circle class="dr" cx="1285.9" cy="388.8" r="3.75"/>
<circle class="dr" cx="1106.6" cy="391.1" r="3.75"/>
<circle class="dr" cx="1130.0" cy="392.8" r="3.75"/>
<circle class="dr" cx="1151.5" cy="393.5" r="3.75"/>
<circle class="dr" cx="1213.0" cy="392.3" r="3.75"/>
<circle class="dr" cx="1234.8" cy="391.6" r="3.75"/>
<circle class="dr" cx="1249.3" cy="390.7" r="3.75"/>
<circle class="dr" cx="1260.2" cy="390.7" r="3.75"/>
<circle class="dr" cx="1184.2" cy="397.0" r="3.75"/>
<circle class="dr" cx="1130.0" cy="401.7" r="3.75"/>
<circle class="dr" cx="1139.8" cy="402.9" r="3.75"/>
<circle class="dr" cx="1209.5" cy="402.0" r="3.75"/>
<circle class="dr" cx="1235.8" cy="401.3" r="3.75"/>
<circle class="dr" cx="1264.0" cy="402.9" r="3.75"/>
<circle class="dr" cx="1165.9" cy="404.5" r="3.75"/>
<circle class="dr" cx="1173.2" cy="403.5" r="3.75"/>
<circle class="dr" cx="1182.6" cy="407.2" r="3.75"/>
<circle class="dr" cx="1227.7" cy="405.1" r="3.75"/>
<circle class="dr" cx="1267.7" cy="408.2" r="3.75"/>
<circle class="dr" cx="1271.5" cy="408.5" r="3.75"/>
<circle class="dr" cx="1215.1" cy="409.9" r="3.75"/>
<circle class="dr" cx="1223.9" cy="409.7" r="3.75"/>
<circle class="dr" cx="1242.1" cy="410.1" r="3.75"/>
<circle class="dr" cx="1252.3" cy="408.9" r="3.75"/>
<circle class="dr" cx="1249.3" cy="412.0" r="3.75"/>
<circle class="dr" cx="1196.7" cy="411.4" r="3.75"/>
<circle class="dr" cx="1162.3" cy="416.6" r="3.75"/>
<circle class="dr" cx="1282.1" cy="417.2" r="3.75"/>
<circle class="dr" cx="1173.2" cy="421.4" r="3.75"/>
<circle class="dr" cx="1220.4" cy="421.4" r="3.75"/>
<circle class="dr" cx="1256.8" cy="421.6" r="3.75"/>
<circle class="dr" cx="1191.4" cy="424.5" r="3.75"/>
<circle class="dr" cx="1208.0" cy="424.1" r="3.75"/>
<circle class="dr" cx="1245.6" cy="427.0" r="3.75"/>
<circle class="dr" cx="1253.1" cy="426.6" r="3.75"/>
<circle class="dr" cx="1267.7" cy="428.3" r="3.75"/>
<circle class="dr" cx="1248.2" cy="429.5" r="3.75"/>
<circle class="dr" cx="1285.7" cy="432.5" r="3.75"/>
<circle class="dr" cx="1238.7" cy="432.8" r="3.75"/>
<circle class="dr" cx="1162.3" cy="435.8" r="3.75"/>
<circle class="dr" cx="1180.6" cy="437.0" r="3.75"/>
<circle class="dr" cx="1191.4" cy="443.8" r="3.75"/>
<circle class="dr" cx="1238.7" cy="443.8" r="3.75"/>
<circle class="dr" cx="1263.0" cy="445.8" r="3.75"/>
<circle class="dr" cx="1271.0" cy="455.3" r="3.75"/>
<circle class="dr" cx="1252.9" cy="460.8" r="3.75"/>
<circle class="dr" cx="1162.3" cy="469.6" r="3.75"/>
<circle class="db" cx="1021.6" cy="172.5" r="3.75"/>
<circle class="db" cx="1010.1" cy="214.1" r="3.75"/>
<circle class="db" cx="1010.1" cy="227.4" r="3.75"/>
<circle class="db" cx="1026.6" cy="237.1" r="3.75"/>
<circle class="db" cx="979.0" cy="230.9" r="3.75"/>
<circle class="db" cx="890.2" cy="225.4" r="3.75"/>
<circle class="db" cx="860.1" cy="230.4" r="3.75"/>
<circle class="db" cx="850.6" cy="234.9" r="3.75"/>
<circle class="db" cx="835.1" cy="243.4" r="3.75"/>
<circle class="db" cx="891.4" cy="245.1" r="3.75"/>
<circle class="db" cx="997.8" cy="246.1" r="3.75"/>
<circle class="db" cx="1006.1" cy="248.6" r="3.75"/>
<circle class="db" cx="915.7" cy="251.7" r="3.75"/>
<circle class="db" cx="919.7" cy="255.4" r="3.75"/>
<circle class="db" cx="948.0" cy="258.7" r="3.75"/>
<circle class="db" cx="858.4" cy="261.2" r="3.75"/>
<circle class="db" cx="928.5" cy="261.2" r="3.75"/>
<circle class="db" cx="861.9" cy="268.4" r="3.75"/>
<circle class="db" cx="842.1" cy="271.2" r="3.75"/>
<circle class="db" cx="836.6" cy="274.4" r="3.75"/>
<circle class="db" cx="862.6" cy="274.4" r="3.75"/>
<circle class="db" cx="825.8" cy="277.2" r="3.75"/>
<circle class="db" cx="846.8" cy="279.2" r="3.75"/>
<circle class="db" cx="886.6" cy="277.2" r="3.75"/>
<circle class="db" cx="927.7" cy="273.7" r="3.75"/>
<circle class="db" cx="934.2" cy="278.4" r="3.75"/>
<circle class="db" cx="943.0" cy="277.2" r="3.75"/>
<circle class="db" cx="940.2" cy="281.9" r="3.75"/>
<circle class="db" cx="936.0" cy="285.2" r="3.75"/>
<circle class="db" cx="936.0" cy="288.2" r="3.75"/>
<circle class="db" cx="944.5" cy="287.0" r="3.75"/>
<circle class="db" cx="883.1" cy="284.2" r="3.75"/>
<circle class="db" cx="896.7" cy="283.2" r="3.75"/>
<circle class="db" cx="863.4" cy="285.2" r="3.75"/>
<circle class="db" cx="919.7" cy="284.7" r="3.75"/>
<circle class="db" cx="914.7" cy="289.7" r="3.75"/>
<circle class="db" cx="919.7" cy="288.5" r="3.75"/>
<circle class="db" cx="877.6" cy="288.5" r="3.75"/>
<circle class="db" cx="876.4" cy="292.2" r="3.75"/>
<circle class="db" cx="890.2" cy="292.7" r="3.75"/>
<circle class="db" cx="927.7" cy="292.2" r="3.75"/>
<circle class="db" cx="811.3" cy="290.5" r="3.75"/>
<circle class="db" cx="854.6" cy="297.5" r="3.75"/>
<circle class="db" cx="885.9" cy="301.2" r="3.75"/>
<circle class="db" cx="899.4" cy="303.5" r="3.75"/>
<circle class="db" cx="847.3" cy="303.7" r="3.75"/>
<circle class="db" cx="843.3" cy="307.2" r="3.75"/>
<circle class="db" cx="840.8" cy="309.7" r="3.75"/>
<circle class="db" cx="861.9" cy="306.2" r="3.75"/>
<circle class="db" cx="861.9" cy="310.2" r="3.75"/>
<circle class="db" cx="893.4" cy="307.7" r="3.75"/>
<circle class="db" cx="811.8" cy="306.2" r="3.75"/>
<circle class="db" cx="915.7" cy="307.2" r="3.75"/>
<circle class="db" cx="948.7" cy="299.7" r="3.75"/>
<circle class="db" cx="858.1" cy="313.2" r="3.75"/>
<circle class="db" cx="847.3" cy="314.5" r="3.75"/>
<circle class="db" cx="841.8" cy="315.5" r="3.75"/>
<circle class="db" cx="866.4" cy="316.5" r="3.75"/>
<circle class="db" cx="870.6" cy="317.8" r="3.75"/>
<circle class="db" cx="911.9" cy="316.8" r="3.75"/>
<circle class="db" cx="836.6" cy="319.8" r="3.75"/>
<circle class="db" cx="825.8" cy="322.3" r="3.75"/>
<circle class="db" cx="858.4" cy="322.8" r="3.75"/>
<circle class="db" cx="916.2" cy="323.5" r="3.75"/>
<circle class="db" cx="815.0" cy="326.5" r="3.75"/>
<circle class="db" cx="841.8" cy="326.5" r="3.75"/>
<circle class="db" cx="853.3" cy="326.5" r="3.75"/>
<circle class="db" cx="849.3" cy="328.3" r="3.75"/>
<circle class="db" cx="818.8" cy="330.3" r="3.75"/>
<circle class="db" cx="847.3" cy="330.8" r="3.75"/>
<circle class="db" cx="804.3" cy="332.3" r="3.75"/>
<circle class="db" cx="811.3" cy="335.3" r="3.75"/>
<circle class="db" cx="828.3" cy="336.0" r="3.75"/>
<circle class="db" cx="908.4" cy="332.8" r="3.75"/>
<circle class="db" cx="914.4" cy="331.8" r="3.75"/>
<circle class="db" cx="903.9" cy="336.0" r="3.75"/>
<circle class="db" cx="915.9" cy="336.5" r="3.75"/>
<circle class="db" cx="956.0" cy="334.8" r="3.75"/>
<circle class="db" cx="1014.6" cy="267.7" r="3.75"/>
<circle class="db" cx="989.5" cy="271.4" r="3.75"/>
<circle class="db" cx="987.8" cy="280.2" r="3.75"/>
<circle class="db" cx="1014.6" cy="278.2" r="3.75"/>
<circle class="db" cx="993.6" cy="291.5" r="3.75"/>
<circle class="db" cx="992.1" cy="294.0" r="3.75"/>
<circle class="db" cx="996.1" cy="307.2" r="3.75"/>
<circle class="db" cx="1030.4" cy="305.2" r="3.75"/>
<circle class="db" cx="1026.6" cy="310.5" r="3.75"/>
<circle class="db" cx="1017.3" cy="329.8" r="3.75"/>
<circle class="db" cx="997.8" cy="336.8" r="3.75"/>
<circle class="db" cx="805.0" cy="338.1" r="3.75"/>
<circle class="db" cx="911.4" cy="338.8" r="3.75"/>
<circle class="db" cx="934.8" cy="340.6" r="3.75"/>
<circle class="db" cx="956.9" cy="340.3" r="3.75"/>
<circle class="db" cx="987.8" cy="341.3" r="3.75"/>
<circle class="db" cx="822.3" cy="343.5" r="3.75"/>
<circle class="db" cx="858.2" cy="341.9" r="3.75"/>
<circle class="db" cx="869.1" cy="344.4" r="3.75"/>
<circle class="db" cx="887.0" cy="343.8" r="3.75"/>
<circle class="db" cx="893.7" cy="345.6" r="3.75"/>
<circle class="db" cx="822.3" cy="347.1" r="3.75"/>
<circle class="db" cx="839.4" cy="346.9" r="3.75"/>
<circle class="db" cx="873.6" cy="347.9" r="3.75"/>
<circle class="db" cx="862.4" cy="349.1" r="3.75"/>
<circle class="db" cx="951.7" cy="349.4" r="3.75"/>
<circle class="db" cx="826.3" cy="351.0" r="3.75"/>
<circle class="db" cx="796.9" cy="352.5" r="3.75"/>
<circle class="db" cx="875.1" cy="352.8" r="3.75"/>
<circle class="db" cx="883.9" cy="352.3" r="3.75"/>
<circle class="db" cx="883.9" cy="349.4" r="3.75"/>
<circle class="db" cx="916.2" cy="353.5" r="3.75"/>
<circle class="db" cx="850.1" cy="355.9" r="3.75"/>
<circle class="db" cx="822.3" cy="357.5" r="3.75"/>
<circle class="db" cx="811.3" cy="359.2" r="3.75"/>
<circle class="db" cx="804.1" cy="362.8" r="3.75"/>
<circle class="db" cx="796.9" cy="364.8" r="3.75"/>
<circle class="db" cx="819.4" cy="364.8" r="3.75"/>
<circle class="db" cx="845.5" cy="363.2" r="3.75"/>
<circle class="db" cx="848.2" cy="364.4" r="3.75"/>
<circle class="db" cx="858.2" cy="365.7" r="3.75"/>
<circle class="db" cx="866.4" cy="368.2" r="3.75"/>
<circle class="db" cx="874.9" cy="367.8" r="3.75"/>
<circle class="db" cx="894.5" cy="368.4" r="3.75"/>
<circle class="db" cx="885.1" cy="369.4" r="3.75"/>
<circle class="db" cx="850.7" cy="369.8" r="3.75"/>
<circle class="db" cx="868.2" cy="371.6" r="3.75"/>
<circle class="db" cx="830.3" cy="370.1" r="3.75"/>
<circle class="db" cx="825.4" cy="371.9" r="3.75"/>
<circle class="db" cx="807.5" cy="372.8" r="3.75"/>
<circle class="db" cx="818.5" cy="373.6" r="3.75"/>
<circle class="db" cx="829.8" cy="376.7" r="3.75"/>
<circle class="db" cx="1021.0" cy="372.2" r="3.75"/>
<circle class="db" cx="818.5" cy="380.1" r="3.75"/>
<circle class="db" cx="877.4" cy="380.9" r="3.75"/>
<circle class="db" cx="880.8" cy="380.7" r="3.75"/>
<circle class="db" cx="817.8" cy="385.1" r="3.75"/>
<circle class="db" cx="821.5" cy="386.7" r="3.75"/>
<circle class="db" cx="862.2" cy="385.1" r="3.75"/>
<circle class="db" cx="862.0" cy="388.2" r="3.75"/>
<circle class="db" cx="937.5" cy="388.5" r="3.75"/>
<circle class="db" cx="948.7" cy="386.3" r="3.75"/>
<circle class="db" cx="821.9" cy="391.7" r="3.75"/>
<circle class="db" cx="833.2" cy="391.3" r="3.75"/>
<circle class="db" cx="807.5" cy="396.3" r="3.75"/>
<circle class="db" cx="818.5" cy="399.2" r="3.75"/>
<circle class="db" cx="883.9" cy="397.6" r="3.75"/>
<circle class="db" cx="825.9" cy="402.6" r="3.75"/>
<circle class="db" cx="901.8" cy="401.3" r="3.75"/>
<circle class="db" cx="804.1" cy="407.0" r="3.75"/>
<circle class="db" cx="800.6" cy="411.1" r="3.75"/>
<circle class="db" cx="815.4" cy="411.7" r="3.75"/>
<circle class="db" cx="851.1" cy="414.2" r="3.75"/>
<circle class="db" cx="855.1" cy="413.9" r="3.75"/>
<circle class="db" cx="872.6" cy="416.0" r="3.75"/>
<circle class="db" cx="804.1" cy="425.4" r="3.75"/>
<circle class="db" cx="796.8" cy="430.0" r="3.75"/>
<circle class="db" cx="804.3" cy="429.0" r="3.75"/>
<polygon class="cb" points="797.0,348.4 806.7,345.5 816.5,342.6 826.2,339.6 836.0,336.5 845.7,333.4 855.5,330.1 865.2,326.6 874.9,323.0 884.7,319.1 894.4,315.0 904.2,310.7 913.9,306.2 923.6,301.6 933.4,296.9 943.1,292.1 952.9,287.3 962.6,282.4 972.4,277.5 982.1,272.5 991.8,267.6 1001.6,262.6 1011.3,257.6 1021.1,252.7 1030.8,247.7 1030.8,285.7 1021.1,288.5 1011.3,291.3 1001.6,294.1 991.8,296.9 982.1,299.7 972.4,302.6 962.6,305.4 952.9,308.3 943.1,311.3 933.4,314.3 923.6,317.4 913.9,320.5 904.2,323.8 894.4,327.3 884.7,330.9 874.9,334.8 865.2,338.9 855.5,343.3 845.7,347.8 836.0,352.4 826.2,357.1 816.5,361.9 806.7,366.7 797.0,371.6"/>
<polygon class="cr" points="1014.4,275.8 1025.7,281.2 1037.0,286.5 1048.3,291.8 1059.6,297.1 1070.9,302.4 1082.2,307.7 1093.6,312.9 1104.9,318.1 1116.2,323.3 1127.5,328.4 1138.8,333.3 1150.1,338.2 1161.4,342.8 1172.7,347.3 1184.0,351.4 1195.3,355.3 1206.6,358.9 1218.0,362.3 1229.3,365.6 1240.6,368.8 1251.9,371.9 1263.2,374.9 1274.5,377.9 1285.8,380.8 1285.8,408.0 1274.5,402.7 1263.2,397.5 1251.9,392.3 1240.6,387.2 1229.3,382.1 1218.0,377.2 1206.6,372.4 1195.3,367.8 1184.0,363.4 1172.7,359.4 1161.4,355.6 1150.1,352.0 1138.8,348.6 1127.5,345.4 1116.2,342.3 1104.9,339.2 1093.6,336.2 1082.2,333.2 1070.9,330.2 1059.6,327.3 1048.3,324.4 1037.0,321.5 1025.7,318.6 1014.4,315.8"/>
<line class="lb" x1="797.8" y1="359.7" x2="1030.5" y2="266.8"/>
<line class="lr" x1="1015.0" y1="296.0" x2="1285.2" y2="394.2"/>
</g>
<g id="pb">
<line class="tc" x1="797.4" y1="593.3" x2="797.4" y2="599.3"/>
<text class="tk tx" x="797.4" y="622.6" transform="rotate(0.02 797.4 622.6)" text-anchor="middle">1.0</text>
<line class="tc" x1="858.9" y1="593.3" x2="858.9" y2="599.3"/>
<text class="tk tx" x="858.9" y="622.6" transform="rotate(0.02 858.9 622.6)" text-anchor="middle">1.5</text>
<line class="tc" x1="920.4" y1="593.3" x2="920.4" y2="599.3"/>
<text class="tk tx" x="920.4" y="622.6" transform="rotate(0.02 920.4 622.6)" text-anchor="middle">2.0</text>
<line class="tc" x1="981.9" y1="593.3" x2="981.9" y2="599.3"/>
<text class="tk tx" x="981.9" y="622.6" transform="rotate(0.02 981.9 622.6)" text-anchor="middle">2.5</text>
<line class="tc" x1="1043.4" y1="593.3" x2="1043.4" y2="599.3"/>
<text class="tk tx" x="1043.4" y="622.6" transform="rotate(0.02 1043.4 622.6)" text-anchor="middle">3.0</text>
<line class="tc" x1="1104.9" y1="593.3" x2="1104.9" y2="599.3"/>
<text class="tk tx" x="1104.9" y="622.6" transform="rotate(0.02 1104.9 622.6)" text-anchor="middle">3.5</text>
<line class="tc" x1="1166.4" y1="593.3" x2="1166.4" y2="599.3"/>
<text class="tk tx" x="1166.4" y="622.6" transform="rotate(0.02 1166.4 622.6)" text-anchor="middle">4.0</text>
<line class="tc" x1="1227.9" y1="593.3" x2="1227.9" y2="599.3"/>
<text class="tk tx" x="1227.9" y="622.6" transform="rotate(0.02 1227.9 622.6)" text-anchor="middle">4.5</text>
<line class="tc" x1="1289.4" y1="593.3" x2="1289.4" y2="599.3"/>
<text class="tk tx" x="1289.4" y="622.6" transform="rotate(0.02 1289.4 622.6)" text-anchor="middle">5.0</text>
<line class="tc" x1="766.6" y1="128.8" x2="772.6" y2="128.8"/>
<text class="tk" x="761.4" y="137.8" transform="rotate(0.02 761.4 137.8)" text-anchor="end">2.5</text>
<line class="tc" x1="766.6" y1="244.9" x2="772.6" y2="244.9"/>
<text class="tk" x="761.4" y="253.9" transform="rotate(0.02 761.4 253.9)" text-anchor="end">2.0</text>
<line class="tc" x1="766.6" y1="361.0" x2="772.6" y2="361.0"/>
<text class="tk" x="761.4" y="370.0" transform="rotate(0.02 761.4 370.0)" text-anchor="end">1.5</text>
<line class="tc" x1="766.6" y1="477.2" x2="772.6" y2="477.2"/>
<text class="tk" x="761.4" y="486.2" transform="rotate(0.02 761.4 486.2)" text-anchor="end">1.0</text>
<line class="tc" x1="766.6" y1="593.3" x2="772.6" y2="593.3"/>
<text class="tk" x="761.4" y="602.3" transform="rotate(0.02 761.4 602.3)" text-anchor="end">0.5</text>
<text class="al" transform="translate(1041.7,651.4) rotate(0.02) scale(1.03,1)" text-anchor="middle">Feature Similarity</text>
<text class="al" transform="translate(716.6,328.7) rotate(-89.98) scale(1.01,1)" text-anchor="middle">RT</text>
</g>
<path class="ax" d="M772.6 58.6V593.3H1310.3"/>
<text class="an" x="780" y="709.4" transform="rotate(0.02 780 709.4)" fill="#e93a1c" stroke="#e93a1c">Matching: r = -0.39, p &lt; 0.0001</text>
<text class="an" x="780" y="748.65" transform="rotate(0.02 780 748.65)" fill="#3f60fa" stroke="#3f60fa">Non-matching: r = 0.50, p &lt; 0.0001</text>
<g id="pc-pts" transform="translate(0,0.2)">
<circle class="dr" cx="1848.3" cy="97.8" r="3.75"/>
<circle class="dr" cx="1858.3" cy="97.8" r="3.75"/>
<circle class="dr" cx="1867.3" cy="97.8" r="3.75"/>
<circle class="dr" cx="1876.5" cy="97.8" r="3.75"/>
<circle class="dr" cx="1887.1" cy="97.8" r="3.75"/>
<circle class="dr" cx="1891.3" cy="97.8" r="3.75"/>
<circle class="dr" cx="1898.4" cy="97.8" r="3.75"/>
<circle class="dr" cx="1909.0" cy="97.8" r="3.75"/>
<circle class="dr" cx="1915.9" cy="97.8" r="3.75"/>
<circle class="dr" cx="1919.7" cy="97.8" r="3.75"/>
<circle class="dr" cx="1923.4" cy="97.8" r="3.75"/>
<circle class="dr" cx="1927.2" cy="97.8" r="3.75"/>
<circle class="dr" cx="1930.9" cy="97.8" r="3.75"/>
<circle class="dr" cx="1934.7" cy="97.8" r="3.75"/>
<circle class="dr" cx="1938.5" cy="97.8" r="3.75"/>
<circle class="dr" cx="1942.2" cy="97.8" r="3.75"/>
<circle class="dr" cx="1947.8" cy="97.8" r="3.75"/>
<circle class="dr" cx="1951.6" cy="97.8" r="3.75"/>
<circle class="dr" cx="1956.0" cy="97.8" r="3.75"/>
<circle class="dr" cx="1966.6" cy="97.8" r="3.75"/>
<circle class="dr" cx="1793.2" cy="127.3" r="3.75"/>
<circle class="dr" cx="1800.4" cy="127.3" r="3.75"/>
<circle class="dr" cx="1822.0" cy="126.1" r="3.75"/>
<circle class="dr" cx="1836.4" cy="127.3" r="3.75"/>
<circle class="dr" cx="1847.1" cy="126.1" r="3.75"/>
<circle class="dr" cx="1858.3" cy="127.3" r="3.75"/>
<circle class="dr" cx="1864.0" cy="126.1" r="3.75"/>
<circle class="dr" cx="1869.0" cy="127.3" r="3.75"/>
<circle class="dr" cx="1872.1" cy="125.8" r="3.75"/>
<circle class="dr" cx="1876.5" cy="127.3" r="3.75"/>
<circle class="dr" cx="1882.5" cy="125.9" r="3.75"/>
<circle class="dr" cx="1888.4" cy="127.3" r="3.75"/>
<circle class="dr" cx="1891.8" cy="125.8" r="3.75"/>
<circle class="dr" cx="1894.6" cy="127.3" r="3.75"/>
<circle class="dr" cx="1910.0" cy="127.3" r="3.75"/>
<circle class="dr" cx="1913.8" cy="126.9" r="3.75"/>
<circle class="dr" cx="1919.0" cy="126.1" r="3.75"/>
<circle class="dr" cx="1923.1" cy="126.1" r="3.75"/>
<circle class="dr" cx="1932.8" cy="126.1" r="3.75"/>
<circle class="dr" cx="1934.3" cy="127.3" r="3.75"/>
<circle class="dr" cx="1937.8" cy="126.1" r="3.75"/>
<circle class="dr" cx="1948.8" cy="127.3" r="3.75"/>
<circle class="dr" cx="1952.6" cy="127.3" r="3.75"/>
<circle class="dr" cx="1769.1" cy="154.5" r="3.75"/>
<circle class="dr" cx="1782.2" cy="154.5" r="3.75"/>
<circle class="dr" cx="1791.6" cy="156.6" r="3.75"/>
<circle class="dr" cx="1812.4" cy="154.5" r="3.75"/>
<circle class="dr" cx="1815.8" cy="154.5" r="3.75"/>
<circle class="dr" cx="1826.4" cy="154.5" r="3.75"/>
<circle class="dr" cx="1839.8" cy="156.6" r="3.75"/>
<circle class="dr" cx="1865.2" cy="154.5" r="3.75"/>
<circle class="dr" cx="1872.7" cy="156.6" r="3.75"/>
<circle class="dr" cx="1894.4" cy="156.6" r="3.75"/>
<circle class="dr" cx="1905.3" cy="154.5" r="3.75"/>
<circle class="dr" cx="1909.3" cy="154.5" r="3.75"/>
<circle class="dr" cx="1915.9" cy="156.6" r="3.75"/>
<circle class="dr" cx="1919.9" cy="154.5" r="3.75"/>
<circle class="dr" cx="1959.5" cy="156.6" r="3.75"/>
<circle class="dr" cx="1699.1" cy="186.1" r="3.75"/>
<circle class="dr" cx="1756.7" cy="186.1" r="3.75"/>
<circle class="dr" cx="1774.7" cy="182.6" r="3.75"/>
<circle class="dr" cx="1805.8" cy="182.6" r="3.75"/>
<circle class="dr" cx="1818.3" cy="182.6" r="3.75"/>
<circle class="dr" cx="1824.9" cy="182.6" r="3.75"/>
<circle class="dr" cx="1842.7" cy="186.1" r="3.75"/>
<circle class="dr" cx="1847.4" cy="182.4" r="3.75"/>
<circle class="dr" cx="1850.8" cy="182.6" r="3.75"/>
<circle class="dr" cx="1858.3" cy="185.9" r="3.75"/>
<circle class="dr" cx="1865.2" cy="186.1" r="3.75"/>
<circle class="dr" cx="1869.0" cy="182.4" r="3.75"/>
<circle class="dr" cx="1869.6" cy="185.9" r="3.75"/>
<circle class="dr" cx="1881.5" cy="185.9" r="3.75"/>
<circle class="dr" cx="1889.0" cy="186.1" r="3.75"/>
<circle class="dr" cx="1893.4" cy="186.1" r="3.75"/>
<circle class="dr" cx="1917.8" cy="186.1" r="3.75"/>
<circle class="dr" cx="1919.9" cy="182.6" r="3.75"/>
<circle class="dr" cx="1934.3" cy="182.6" r="3.75"/>
<circle class="dr" cx="1748.4" cy="210.9" r="3.75"/>
<circle class="dr" cx="1756.9" cy="215.6" r="3.75"/>
<circle class="dr" cx="1777.2" cy="215.6" r="3.75"/>
<circle class="dr" cx="1800.4" cy="215.6" r="3.75"/>
<circle class="dr" cx="1811.1" cy="210.9" r="3.75"/>
<circle class="dr" cx="1827.7" cy="210.8" r="3.75"/>
<circle class="dr" cx="1830.8" cy="215.6" r="3.75"/>
<circle class="dr" cx="1842.7" cy="210.9" r="3.75"/>
<circle class="dr" cx="1847.4" cy="211.2" r="3.75"/>
<circle class="dr" cx="1861.8" cy="215.6" r="3.75"/>
<circle class="dr" cx="1865.2" cy="210.9" r="3.75"/>
<circle class="dr" cx="1875.6" cy="215.6" r="3.75"/>
<circle class="dr" cx="1940.6" cy="215.6" r="3.75"/>
<circle class="dr" cx="1956.0" cy="210.9" r="3.75"/>
<circle class="dr" cx="1804.1" cy="239.6" r="3.75"/>
<circle class="dr" cx="1836.4" cy="245.0" r="3.75"/>
<circle class="dr" cx="1859.0" cy="239.3" r="3.75"/>
<circle class="dr" cx="1869.6" cy="239.3" r="3.75"/>
<circle class="dr" cx="1896.3" cy="245.0" r="3.75"/>
<circle class="dr" cx="1901.8" cy="239.3" r="3.75"/>
<circle class="dr" cx="1931.6" cy="239.3" r="3.75"/>
<circle class="dr" cx="1952.5" cy="239.3" r="3.75"/>
<circle class="dr" cx="1956.2" cy="245.0" r="3.75"/>
<circle class="dr" cx="1811.1" cy="267.9" r="3.75"/>
<circle class="dr" cx="1818.9" cy="267.9" r="3.75"/>
<circle class="dr" cx="1767.8" cy="274.5" r="3.75"/>
<circle class="dr" cx="1789.5" cy="274.5" r="3.75"/>
<circle class="dr" cx="1851.1" cy="274.5" r="3.75"/>
<circle class="dr" cx="1858.3" cy="274.5" r="3.75"/>
<circle class="dr" cx="1898.1" cy="274.5" r="3.75"/>
<circle class="dr" cx="1802.2" cy="296.0" r="3.75"/>
<circle class="dr" cx="1818.0" cy="296.0" r="3.75"/>
<circle class="dr" cx="1833.0" cy="296.0" r="3.75"/>
<circle class="dr" cx="1776.7" cy="303.8" r="3.75"/>
<circle class="dr" cx="1839.8" cy="303.8" r="3.75"/>
<circle class="dr" cx="1848.3" cy="303.8" r="3.75"/>
<circle class="dr" cx="1859.2" cy="303.8" r="3.75"/>
<circle class="dr" cx="1877.7" cy="303.8" r="3.75"/>
<circle class="dr" cx="1909.0" cy="303.8" r="3.75"/>
<circle class="dr" cx="1814.8" cy="324.6" r="3.75"/>
<circle class="dr" cx="1831.4" cy="324.6" r="3.75"/>
<circle class="dr" cx="1834.5" cy="324.6" r="3.75"/>
<circle class="dr" cx="1838.1" cy="324.6" r="3.75"/>
<circle class="dr" cx="1822.0" cy="333.4" r="3.75"/>
<circle class="dr" cx="1830.5" cy="333.4" r="3.75"/>
<circle class="dr" cx="1881.9" cy="333.4" r="3.75"/>
<circle class="dr" cx="1818.5" cy="353.0" r="3.75"/>
<circle class="dr" cx="1837.3" cy="353.0" r="3.75"/>
<circle class="dr" cx="1847.3" cy="362.8" r="3.75"/>
<circle class="dr" cx="1872.6" cy="409.6" r="3.75"/>
<circle class="dr" cx="1793.2" cy="451.1" r="3.75"/>
<circle class="dr" cx="1872.6" cy="466.2" r="3.75"/>
<circle class="dr" cx="1896.1" cy="466.2" r="3.75"/>
<circle class="dr" cx="1832.5" cy="480.4" r="3.75"/>
<circle class="dr" cx="1883.1" cy="480.4" r="3.75"/>
<circle class="dr" cx="1970.5" cy="126.5" r="3.75"/>
<circle class="db" cx="1481.5" cy="97.8" r="3.75"/>
<circle class="db" cx="1485.0" cy="97.8" r="3.75"/>
<circle class="db" cx="1488.8" cy="97.8" r="3.75"/>
<circle class="db" cx="1493.2" cy="97.8" r="3.75"/>
<circle class="db" cx="1496.5" cy="97.8" r="3.75"/>
<circle class="db" cx="1504.2" cy="97.8" r="3.75"/>
<circle class="db" cx="1507.3" cy="97.8" r="3.75"/>
<circle class="db" cx="1510.9" cy="97.8" r="3.75"/>
<circle class="db" cx="1524.1" cy="97.8" r="3.75"/>
<circle class="db" cx="1528.2" cy="97.8" r="3.75"/>
<circle class="db" cx="1530.3" cy="97.8" r="3.75"/>
<circle class="db" cx="1536.3" cy="97.8" r="3.75"/>
<circle class="db" cx="1542.0" cy="97.8" r="3.75"/>
<circle class="db" cx="1544.9" cy="97.8" r="3.75"/>
<circle class="db" cx="1547.0" cy="97.8" r="3.75"/>
<circle class="db" cx="1557.6" cy="97.8" r="3.75"/>
<circle class="db" cx="1564.8" cy="97.8" r="3.75"/>
<circle class="db" cx="1572.0" cy="97.8" r="3.75"/>
<circle class="db" cx="1481.5" cy="127.3" r="3.75"/>
<circle class="db" cx="1488.8" cy="127.3" r="3.75"/>
<circle class="db" cx="1492.5" cy="127.3" r="3.75"/>
<circle class="db" cx="1496.0" cy="126.6" r="3.75"/>
<circle class="db" cx="1500.0" cy="126.1" r="3.75"/>
<circle class="db" cx="1506.9" cy="127.3" r="3.75"/>
<circle class="db" cx="1510.7" cy="127.3" r="3.75"/>
<circle class="db" cx="1515.1" cy="127.3" r="3.75"/>
<circle class="db" cx="1521.6" cy="127.3" r="3.75"/>
<circle class="db" cx="1526.1" cy="126.1" r="3.75"/>
<circle class="db" cx="1535.3" cy="126.1" r="3.75"/>
<circle class="db" cx="1543.2" cy="127.6" r="3.75"/>
<circle class="db" cx="1547.6" cy="127.3" r="3.75"/>
<circle class="db" cx="1554.1" cy="125.9" r="3.75"/>
<circle class="db" cx="1559.9" cy="127.6" r="3.75"/>
<circle class="db" cx="1563.3" cy="126.1" r="3.75"/>
<circle class="db" cx="1568.9" cy="127.6" r="3.75"/>
<circle class="db" cx="1572.0" cy="125.9" r="3.75"/>
<circle class="db" cx="1596.4" cy="127.3" r="3.75"/>
<circle class="db" cx="1601.2" cy="127.3" r="3.75"/>
<circle class="db" cx="1633.7" cy="127.2" r="3.75"/>
<circle class="db" cx="1496.0" cy="156.4" r="3.75"/>
<circle class="db" cx="1503.8" cy="154.2" r="3.75"/>
<circle class="db" cx="1506.6" cy="156.6" r="3.75"/>
<circle class="db" cx="1521.3" cy="154.5" r="3.75"/>
<circle class="db" cx="1527.0" cy="156.4" r="3.75"/>
<circle class="db" cx="1536.3" cy="154.5" r="3.75"/>
<circle class="db" cx="1538.6" cy="154.5" r="3.75"/>
<circle class="db" cx="1543.2" cy="156.6" r="3.75"/>
<circle class="db" cx="1555.5" cy="156.4" r="3.75"/>
<circle class="db" cx="1561.1" cy="156.4" r="3.75"/>
<circle class="db" cx="1568.0" cy="156.4" r="3.75"/>
<circle class="db" cx="1574.9" cy="156.4" r="3.75"/>
<circle class="db" cx="1599.6" cy="154.5" r="3.75"/>
<circle class="db" cx="1605.0" cy="154.5" r="3.75"/>
<circle class="db" cx="1621.2" cy="156.4" r="3.75"/>
<circle class="db" cx="1682.8" cy="154.5" r="3.75"/>
<circle class="db" cx="1526.3" cy="182.6" r="3.75"/>
<circle class="db" cx="1534.1" cy="182.0" r="3.75"/>
<circle class="db" cx="1532.2" cy="186.1" r="3.75"/>
<circle class="db" cx="1538.2" cy="186.1" r="3.75"/>
<circle class="db" cx="1541.4" cy="186.1" r="3.75"/>
<circle class="db" cx="1546.7" cy="186.1" r="3.75"/>
<circle class="db" cx="1553.2" cy="182.6" r="3.75"/>
<circle class="db" cx="1557.6" cy="185.9" r="3.75"/>
<circle class="db" cx="1570.2" cy="182.6" r="3.75"/>
<circle class="db" cx="1575.2" cy="186.1" r="3.75"/>
<circle class="db" cx="1596.4" cy="186.1" r="3.75"/>
<circle class="db" cx="1619.6" cy="182.4" r="3.75"/>
<circle class="db" cx="1620.9" cy="186.1" r="3.75"/>
<circle class="db" cx="1674.7" cy="186.1" r="3.75"/>
<circle class="db" cx="1681.3" cy="182.6" r="3.75"/>
<circle class="db" cx="1500.4" cy="215.6" r="3.75"/>
<circle class="db" cx="1528.2" cy="210.9" r="3.75"/>
<circle class="db" cx="1531.7" cy="215.6" r="3.75"/>
<circle class="db" cx="1543.0" cy="210.9" r="3.75"/>
<circle class="db" cx="1547.0" cy="210.6" r="3.75"/>
<circle class="db" cx="1544.9" cy="215.6" r="3.75"/>
<circle class="db" cx="1547.4" cy="215.6" r="3.75"/>
<circle class="db" cx="1559.5" cy="211.2" r="3.75"/>
<circle class="db" cx="1562.6" cy="211.2" r="3.75"/>
<circle class="db" cx="1568.5" cy="215.6" r="3.75"/>
<circle class="db" cx="1576.4" cy="215.8" r="3.75"/>
<circle class="db" cx="1579.8" cy="215.6" r="3.75"/>
<circle class="db" cx="1612.7" cy="211.2" r="3.75"/>
<circle class="db" cx="1622.4" cy="211.2" r="3.75"/>
<circle class="db" cx="1629.4" cy="211.2" r="3.75"/>
<circle class="db" cx="1672.8" cy="211.2" r="3.75"/>
<circle class="db" cx="1520.1" cy="245.0" r="3.75"/>
<circle class="db" cx="1583.0" cy="239.6" r="3.75"/>
<circle class="db" cx="1585.8" cy="239.3" r="3.75"/>
<circle class="db" cx="1600.8" cy="239.3" r="3.75"/>
<circle class="db" cx="1612.7" cy="239.1" r="3.75"/>
<circle class="db" cx="1627.7" cy="245.0" r="3.75"/>
<circle class="db" cx="1632.7" cy="245.0" r="3.75"/>
<circle class="db" cx="1641.1" cy="245.0" r="3.75"/>
<circle class="db" cx="1699.1" cy="239.3" r="3.75"/>
<circle class="db" cx="1551.4" cy="267.9" r="3.75"/>
<circle class="db" cx="1568.5" cy="267.9" r="3.75"/>
<circle class="db" cx="1588.3" cy="267.9" r="3.75"/>
<circle class="db" cx="1593.9" cy="267.9" r="3.75"/>
<circle class="db" cx="1604.6" cy="267.9" r="3.75"/>
<circle class="db" cx="1619.2" cy="267.9" r="3.75"/>
<circle class="db" cx="1691.0" cy="267.9" r="3.75"/>
<circle class="db" cx="1706.0" cy="267.9" r="3.75"/>
<circle class="db" cx="1546.7" cy="274.5" r="3.75"/>
<circle class="db" cx="1578.3" cy="274.5" r="3.75"/>
<circle class="db" cx="1582.3" cy="274.5" r="3.75"/>
<circle class="db" cx="1678.4" cy="274.5" r="3.75"/>
<circle class="db" cx="1699.3" cy="274.5" r="3.75"/>
<circle class="db" cx="1604.6" cy="296.0" r="3.75"/>
<circle class="db" cx="1702.5" cy="296.0" r="3.75"/>
<circle class="db" cx="1547.4" cy="303.8" r="3.75"/>
<circle class="db" cx="1613.3" cy="303.8" r="3.75"/>
<circle class="db" cx="1586.7" cy="324.6" r="3.75"/>
<circle class="db" cx="1711.6" cy="324.6" r="3.75"/>
<circle class="db" cx="1543.5" cy="333.4" r="3.75"/>
<circle class="db" cx="1600.6" cy="333.4" r="3.75"/>
<circle class="db" cx="1633.4" cy="333.4" r="3.75"/>
<circle class="db" cx="1676.9" cy="333.4" r="3.75"/>
<circle class="db" cx="1600.7" cy="362.8" r="3.75"/>
<circle class="db" cx="1664.0" cy="362.8" r="3.75"/>
<circle class="db" cx="1578.4" cy="381.3" r="3.75"/>
<circle class="db" cx="1625.2" cy="392.0" r="3.75"/>
<circle class="db" cx="1636.8" cy="392.0" r="3.75"/>
<circle class="db" cx="1711.4" cy="392.0" r="3.75"/>
<circle class="db" cx="1715.6" cy="409.6" r="3.75"/>
<circle class="db" cx="1641.8" cy="438.1" r="3.75"/>
<circle class="db" cx="1695.1" cy="438.1" r="3.75"/>
<circle class="db" cx="1682.6" cy="451.1" r="3.75"/>
<circle class="db" cx="1695.1" cy="480.4" r="3.75"/>
<circle class="db" cx="1672.8" cy="510.0" r="3.75"/>
<circle class="db" cx="1706.9" cy="568.8" r="3.75"/>
<polygon class="cb" points="1482.1,84.4 1495,98.8 1507.6,115.1 1520.1,130.1 1535.1,146.3 1558.5,174 1582.7,198 1607.7,223 1632.7,243.1 1657.8,268 1682.8,291 1715.7,318 1715.7,396.8 1689.1,361 1670.3,336.1 1645.3,303.6 1616,267 1601.4,248.1 1582.7,223 1563.9,198 1543.5,174 1532.6,161.4 1520.1,147.6 1507.6,133.8 1495,121.3 1482.1,111.3"/>
<polygon class="cr" points="1699.2,267 1738.4,250.2 1782.6,229 1813.9,211.8 1845.2,194.3 1880.2,173 1925,139 1970.3,105 1970.3,150.2 1922.8,173 1895.3,189.3 1870.2,204.3 1845.2,223.1 1820.2,243.1 1794.8,268 1760.8,297.2 1727.2,326.3 1699.2,351"/>
<line class="lb" x1="1482.5" y1="98.5" x2="1715.4" y2="357.7"/>
<line class="lr" x1="1699.3" y1="304.0" x2="1970.2" y2="127.5"/>
</g>
<g id="pc">
<line class="tc" x1="1481.9" y1="593.3" x2="1481.9" y2="599.3"/>
<text class="tk tx" x="1481.9" y="622.6" transform="rotate(0.02 1481.9 622.6)" text-anchor="middle">1.0</text>
<line class="tc" x1="1543.4" y1="593.3" x2="1543.4" y2="599.3"/>
<text class="tk tx" x="1543.4" y="622.6" transform="rotate(0.02 1543.4 622.6)" text-anchor="middle">1.5</text>
<line class="tc" x1="1604.9" y1="593.3" x2="1604.9" y2="599.3"/>
<text class="tk tx" x="1604.9" y="622.6" transform="rotate(0.02 1604.9 622.6)" text-anchor="middle">2.0</text>
<line class="tc" x1="1666.4" y1="593.3" x2="1666.4" y2="599.3"/>
<text class="tk tx" x="1666.4" y="622.6" transform="rotate(0.02 1666.4 622.6)" text-anchor="middle">2.5</text>
<line class="tc" x1="1727.9" y1="593.3" x2="1727.9" y2="599.3"/>
<text class="tk tx" x="1727.9" y="622.6" transform="rotate(0.02 1727.9 622.6)" text-anchor="middle">3.0</text>
<line class="tc" x1="1789.4" y1="593.3" x2="1789.4" y2="599.3"/>
<text class="tk tx" x="1789.4" y="622.6" transform="rotate(0.02 1789.4 622.6)" text-anchor="middle">3.5</text>
<line class="tc" x1="1850.9" y1="593.3" x2="1850.9" y2="599.3"/>
<text class="tk tx" x="1850.9" y="622.6" transform="rotate(0.02 1850.9 622.6)" text-anchor="middle">4.0</text>
<line class="tc" x1="1912.4" y1="593.3" x2="1912.4" y2="599.3"/>
<text class="tk tx" x="1912.4" y="622.6" transform="rotate(0.02 1912.4 622.6)" text-anchor="middle">4.5</text>
<line class="tc" x1="1973.9" y1="593.3" x2="1973.9" y2="599.3"/>
<text class="tk tx" x="1973.9" y="622.6" transform="rotate(0.02 1973.9 622.6)" text-anchor="middle">5.0</text>
<line class="tc" x1="1451.6" y1="97.9" x2="1457.6" y2="97.9"/>
<text class="tk" x="1445.8" y="106.9" transform="rotate(0.02 1445.8 106.9)" text-anchor="end">1.0</text>
<line class="tc" x1="1451.6" y1="174.5" x2="1457.6" y2="174.5"/>
<text class="tk" x="1445.8" y="183.5" transform="rotate(0.02 1445.8 183.5)" text-anchor="end">0.9</text>
<line class="tc" x1="1451.6" y1="251.0" x2="1457.6" y2="251.0"/>
<text class="tk" x="1445.8" y="260.0" transform="rotate(0.02 1445.8 260.0)" text-anchor="end">0.8</text>
<line class="tc" x1="1451.6" y1="327.6" x2="1457.6" y2="327.6"/>
<text class="tk" x="1445.8" y="336.6" transform="rotate(0.02 1445.8 336.6)" text-anchor="end">0.7</text>
<line class="tc" x1="1451.6" y1="404.1" x2="1457.6" y2="404.1"/>
<text class="tk" x="1445.8" y="413.1" transform="rotate(0.02 1445.8 413.1)" text-anchor="end">0.6</text>
<line class="tc" x1="1451.6" y1="480.7" x2="1457.6" y2="480.7"/>
<text class="tk" x="1445.8" y="489.7" transform="rotate(0.02 1445.8 489.7)" text-anchor="end">0.5</text>
<line class="tc" x1="1451.6" y1="557.2" x2="1457.6" y2="557.2"/>
<text class="tk" x="1445.8" y="566.2" transform="rotate(0.02 1445.8 566.2)" text-anchor="end">0.4</text>
<text class="al" transform="translate(1726.0,651.4) rotate(0.02) scale(1.03,1)" text-anchor="middle">Feature Similarity</text>
<text class="al" transform="translate(1400.2,326.6) rotate(-89.98) scale(1.01,1)" text-anchor="middle">Accuracy</text>
</g>
<path class="ax" d="M1457.6 58.6V593.3H1995.1"/>
<text class="an" x="1460" y="709.4" transform="rotate(0.02 1460 709.4)" fill="#e93a1c" stroke="#e93a1c">Matching: r = 0.38, p &lt; 0.0001</text>
<text class="an" x="1460" y="748.65" transform="rotate(0.02 1460 748.65)" fill="#3f60fa" stroke="#3f60fa">Non-matching: r = -0.71, p &lt; 0.0001</text>
</svg>
</body></html>
